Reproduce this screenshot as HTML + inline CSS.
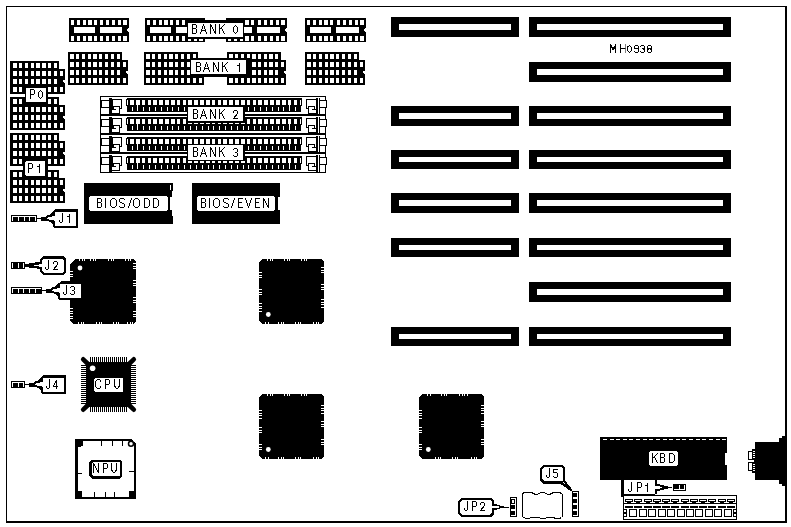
<!DOCTYPE html>
<html><head><meta charset="utf-8"><title>MH0938</title>
<style>
html,body{margin:0;padding:0;background:#fff;}
svg{display:block}
text{font-family:"Liberation Sans",sans-serif;fill:#000;}
</style></head><body>
<svg width="791" height="527" viewBox="0 0 791 527" shape-rendering="crispEdges">
<rect x="0" y="0" width="791" height="527" fill="#fff"/>
<rect x="6" y="6" width="781" height="1" fill="#000"/>
<rect x="6" y="6" width="1" height="517" fill="#000"/>
<rect x="785" y="6" width="2" height="517" fill="#000"/>
<rect x="6" y="521" width="781" height="2" fill="#000"/>
<rect x="69" y="18" width="60" height="24" fill="#000"/>
<rect x="71" y="20" width="3" height="5" fill="#fff"/>
<rect x="71" y="36" width="3" height="5" fill="#fff"/>
<rect x="77" y="20" width="3" height="5" fill="#fff"/>
<rect x="77" y="36" width="3" height="5" fill="#fff"/>
<rect x="83" y="20" width="3" height="5" fill="#fff"/>
<rect x="83" y="36" width="3" height="5" fill="#fff"/>
<rect x="88" y="20" width="4" height="5" fill="#fff"/>
<rect x="88" y="36" width="4" height="5" fill="#fff"/>
<rect x="94" y="20" width="3" height="5" fill="#fff"/>
<rect x="94" y="36" width="3" height="5" fill="#fff"/>
<rect x="100" y="20" width="3" height="5" fill="#fff"/>
<rect x="100" y="36" width="3" height="5" fill="#fff"/>
<rect x="106" y="20" width="3" height="5" fill="#fff"/>
<rect x="106" y="36" width="3" height="5" fill="#fff"/>
<rect x="112" y="20" width="3" height="5" fill="#fff"/>
<rect x="112" y="36" width="3" height="5" fill="#fff"/>
<rect x="118" y="20" width="3" height="5" fill="#fff"/>
<rect x="118" y="36" width="3" height="5" fill="#fff"/>
<rect x="123" y="20" width="4" height="5" fill="#fff"/>
<rect x="123" y="36" width="4" height="5" fill="#fff"/>
<rect x="74" y="27" width="21" height="6" fill="#fff"/>
<rect x="100" y="27" width="22" height="6" fill="#fff"/>
<polygon points="129,28 126,30 129,32" fill="#fff"/>
<rect x="145" y="18" width="60" height="24" fill="#000"/>
<rect x="147" y="20" width="3" height="5" fill="#fff"/>
<rect x="147" y="36" width="3" height="5" fill="#fff"/>
<rect x="153" y="20" width="3" height="5" fill="#fff"/>
<rect x="153" y="36" width="3" height="5" fill="#fff"/>
<rect x="159" y="20" width="3" height="5" fill="#fff"/>
<rect x="159" y="36" width="3" height="5" fill="#fff"/>
<rect x="164" y="20" width="4" height="5" fill="#fff"/>
<rect x="164" y="36" width="4" height="5" fill="#fff"/>
<rect x="170" y="20" width="3" height="5" fill="#fff"/>
<rect x="170" y="36" width="3" height="5" fill="#fff"/>
<rect x="176" y="20" width="3" height="5" fill="#fff"/>
<rect x="176" y="36" width="3" height="5" fill="#fff"/>
<rect x="182" y="20" width="3" height="5" fill="#fff"/>
<rect x="182" y="36" width="3" height="5" fill="#fff"/>
<rect x="188" y="20" width="3" height="5" fill="#fff"/>
<rect x="188" y="36" width="3" height="5" fill="#fff"/>
<rect x="194" y="20" width="3" height="5" fill="#fff"/>
<rect x="194" y="36" width="3" height="5" fill="#fff"/>
<rect x="199" y="20" width="4" height="5" fill="#fff"/>
<rect x="199" y="36" width="4" height="5" fill="#fff"/>
<rect x="150" y="27" width="21" height="6" fill="#fff"/>
<rect x="176" y="27" width="22" height="6" fill="#fff"/>
<polygon points="205,28 202,30 205,32" fill="#fff"/>
<rect x="226" y="18" width="61" height="24" fill="#000"/>
<rect x="228" y="20" width="3" height="5" fill="#fff"/>
<rect x="228" y="36" width="3" height="5" fill="#fff"/>
<rect x="234" y="20" width="3" height="5" fill="#fff"/>
<rect x="234" y="36" width="3" height="5" fill="#fff"/>
<rect x="240" y="20" width="3" height="5" fill="#fff"/>
<rect x="240" y="36" width="3" height="5" fill="#fff"/>
<rect x="245" y="20" width="4" height="5" fill="#fff"/>
<rect x="245" y="36" width="4" height="5" fill="#fff"/>
<rect x="251" y="20" width="3" height="5" fill="#fff"/>
<rect x="251" y="36" width="3" height="5" fill="#fff"/>
<rect x="258" y="20" width="3" height="5" fill="#fff"/>
<rect x="258" y="36" width="3" height="5" fill="#fff"/>
<rect x="264" y="20" width="3" height="5" fill="#fff"/>
<rect x="264" y="36" width="3" height="5" fill="#fff"/>
<rect x="270" y="20" width="3" height="5" fill="#fff"/>
<rect x="270" y="36" width="3" height="5" fill="#fff"/>
<rect x="276" y="20" width="3" height="5" fill="#fff"/>
<rect x="276" y="36" width="3" height="5" fill="#fff"/>
<rect x="281" y="20" width="4" height="5" fill="#fff"/>
<rect x="281" y="36" width="4" height="5" fill="#fff"/>
<rect x="231" y="27" width="21" height="6" fill="#fff"/>
<rect x="257" y="27" width="23" height="6" fill="#fff"/>
<polygon points="287,28 284,30 287,32" fill="#fff"/>
<rect x="305" y="18" width="61" height="24" fill="#000"/>
<rect x="307" y="20" width="3" height="5" fill="#fff"/>
<rect x="307" y="36" width="3" height="5" fill="#fff"/>
<rect x="313" y="20" width="3" height="5" fill="#fff"/>
<rect x="313" y="36" width="3" height="5" fill="#fff"/>
<rect x="319" y="20" width="3" height="5" fill="#fff"/>
<rect x="319" y="36" width="3" height="5" fill="#fff"/>
<rect x="324" y="20" width="4" height="5" fill="#fff"/>
<rect x="324" y="36" width="4" height="5" fill="#fff"/>
<rect x="330" y="20" width="3" height="5" fill="#fff"/>
<rect x="330" y="36" width="3" height="5" fill="#fff"/>
<rect x="337" y="20" width="3" height="5" fill="#fff"/>
<rect x="337" y="36" width="3" height="5" fill="#fff"/>
<rect x="343" y="20" width="3" height="5" fill="#fff"/>
<rect x="343" y="36" width="3" height="5" fill="#fff"/>
<rect x="349" y="20" width="3" height="5" fill="#fff"/>
<rect x="349" y="36" width="3" height="5" fill="#fff"/>
<rect x="355" y="20" width="3" height="5" fill="#fff"/>
<rect x="355" y="36" width="3" height="5" fill="#fff"/>
<rect x="360" y="20" width="4" height="5" fill="#fff"/>
<rect x="360" y="36" width="4" height="5" fill="#fff"/>
<rect x="310" y="27" width="21" height="6" fill="#fff"/>
<rect x="336" y="27" width="23" height="6" fill="#fff"/>
<polygon points="366,28 363,30 366,32" fill="#fff"/>
<rect x="68" y="52" width="54" height="33" fill="#000"/>
<rect x="68" y="60" width="60" height="25" fill="#000"/>
<rect x="70" y="54" width="4" height="5" fill="#fff"/>
<rect x="76" y="54" width="3" height="5" fill="#fff"/>
<rect x="82" y="54" width="3" height="5" fill="#fff"/>
<rect x="88" y="54" width="3" height="5" fill="#fff"/>
<rect x="93" y="54" width="4" height="5" fill="#fff"/>
<rect x="99" y="54" width="3" height="5" fill="#fff"/>
<rect x="105" y="54" width="3" height="5" fill="#fff"/>
<rect x="111" y="54" width="3" height="5" fill="#fff"/>
<rect x="117" y="54" width="3" height="5" fill="#fff"/>
<rect x="70" y="62" width="4" height="5" fill="#fff"/>
<rect x="76" y="62" width="3" height="5" fill="#fff"/>
<rect x="82" y="62" width="3" height="5" fill="#fff"/>
<rect x="88" y="62" width="3" height="5" fill="#fff"/>
<rect x="93" y="62" width="4" height="5" fill="#fff"/>
<rect x="99" y="62" width="3" height="5" fill="#fff"/>
<rect x="105" y="62" width="3" height="5" fill="#fff"/>
<rect x="111" y="62" width="3" height="5" fill="#fff"/>
<rect x="117" y="62" width="3" height="5" fill="#fff"/>
<rect x="123" y="62" width="3" height="5" fill="#fff"/>
<rect x="70" y="70" width="4" height="5" fill="#fff"/>
<rect x="76" y="70" width="3" height="5" fill="#fff"/>
<rect x="82" y="70" width="3" height="5" fill="#fff"/>
<rect x="88" y="70" width="3" height="5" fill="#fff"/>
<rect x="93" y="70" width="4" height="5" fill="#fff"/>
<rect x="99" y="70" width="3" height="5" fill="#fff"/>
<rect x="105" y="70" width="3" height="5" fill="#fff"/>
<rect x="111" y="70" width="3" height="5" fill="#fff"/>
<rect x="117" y="70" width="3" height="5" fill="#fff"/>
<rect x="70" y="78" width="4" height="5" fill="#fff"/>
<rect x="76" y="78" width="3" height="5" fill="#fff"/>
<rect x="82" y="78" width="3" height="5" fill="#fff"/>
<rect x="88" y="78" width="3" height="5" fill="#fff"/>
<rect x="93" y="78" width="4" height="5" fill="#fff"/>
<rect x="99" y="78" width="3" height="5" fill="#fff"/>
<rect x="105" y="78" width="3" height="5" fill="#fff"/>
<rect x="111" y="78" width="3" height="5" fill="#fff"/>
<rect x="117" y="78" width="3" height="5" fill="#fff"/>
<rect x="123" y="78" width="3" height="5" fill="#fff"/>
<polygon points="126,71 128,71 128,75 127,74 126,72.5" fill="#fff"/>
<rect x="144" y="52" width="54" height="33" fill="#000"/>
<rect x="144" y="60" width="60" height="25" fill="#000"/>
<rect x="146" y="54" width="4" height="5" fill="#fff"/>
<rect x="152" y="54" width="3" height="5" fill="#fff"/>
<rect x="158" y="54" width="3" height="5" fill="#fff"/>
<rect x="164" y="54" width="3" height="5" fill="#fff"/>
<rect x="169" y="54" width="4" height="5" fill="#fff"/>
<rect x="175" y="54" width="3" height="5" fill="#fff"/>
<rect x="181" y="54" width="3" height="5" fill="#fff"/>
<rect x="187" y="54" width="3" height="5" fill="#fff"/>
<rect x="193" y="54" width="3" height="5" fill="#fff"/>
<rect x="146" y="62" width="4" height="5" fill="#fff"/>
<rect x="152" y="62" width="3" height="5" fill="#fff"/>
<rect x="158" y="62" width="3" height="5" fill="#fff"/>
<rect x="164" y="62" width="3" height="5" fill="#fff"/>
<rect x="169" y="62" width="4" height="5" fill="#fff"/>
<rect x="175" y="62" width="3" height="5" fill="#fff"/>
<rect x="181" y="62" width="3" height="5" fill="#fff"/>
<rect x="187" y="62" width="3" height="5" fill="#fff"/>
<rect x="193" y="62" width="3" height="5" fill="#fff"/>
<rect x="199" y="62" width="3" height="5" fill="#fff"/>
<rect x="146" y="70" width="4" height="5" fill="#fff"/>
<rect x="152" y="70" width="3" height="5" fill="#fff"/>
<rect x="158" y="70" width="3" height="5" fill="#fff"/>
<rect x="164" y="70" width="3" height="5" fill="#fff"/>
<rect x="169" y="70" width="4" height="5" fill="#fff"/>
<rect x="175" y="70" width="3" height="5" fill="#fff"/>
<rect x="181" y="70" width="3" height="5" fill="#fff"/>
<rect x="187" y="70" width="3" height="5" fill="#fff"/>
<rect x="193" y="70" width="3" height="5" fill="#fff"/>
<rect x="146" y="78" width="4" height="5" fill="#fff"/>
<rect x="152" y="78" width="3" height="5" fill="#fff"/>
<rect x="158" y="78" width="3" height="5" fill="#fff"/>
<rect x="164" y="78" width="3" height="5" fill="#fff"/>
<rect x="169" y="78" width="4" height="5" fill="#fff"/>
<rect x="175" y="78" width="3" height="5" fill="#fff"/>
<rect x="181" y="78" width="3" height="5" fill="#fff"/>
<rect x="187" y="78" width="3" height="5" fill="#fff"/>
<rect x="193" y="78" width="3" height="5" fill="#fff"/>
<rect x="199" y="78" width="3" height="5" fill="#fff"/>
<polygon points="202,71 204,71 204,75 203,74 202,72.5" fill="#fff"/>
<rect x="305" y="52" width="54" height="33" fill="#000"/>
<rect x="305" y="60" width="60" height="25" fill="#000"/>
<rect x="307" y="54" width="4" height="5" fill="#fff"/>
<rect x="313" y="54" width="3" height="5" fill="#fff"/>
<rect x="319" y="54" width="3" height="5" fill="#fff"/>
<rect x="325" y="54" width="3" height="5" fill="#fff"/>
<rect x="330" y="54" width="4" height="5" fill="#fff"/>
<rect x="336" y="54" width="3" height="5" fill="#fff"/>
<rect x="342" y="54" width="3" height="5" fill="#fff"/>
<rect x="348" y="54" width="3" height="5" fill="#fff"/>
<rect x="354" y="54" width="3" height="5" fill="#fff"/>
<rect x="307" y="62" width="4" height="5" fill="#fff"/>
<rect x="313" y="62" width="3" height="5" fill="#fff"/>
<rect x="319" y="62" width="3" height="5" fill="#fff"/>
<rect x="325" y="62" width="3" height="5" fill="#fff"/>
<rect x="330" y="62" width="4" height="5" fill="#fff"/>
<rect x="336" y="62" width="3" height="5" fill="#fff"/>
<rect x="342" y="62" width="3" height="5" fill="#fff"/>
<rect x="348" y="62" width="3" height="5" fill="#fff"/>
<rect x="354" y="62" width="3" height="5" fill="#fff"/>
<rect x="360" y="62" width="3" height="5" fill="#fff"/>
<rect x="307" y="70" width="4" height="5" fill="#fff"/>
<rect x="313" y="70" width="3" height="5" fill="#fff"/>
<rect x="319" y="70" width="3" height="5" fill="#fff"/>
<rect x="325" y="70" width="3" height="5" fill="#fff"/>
<rect x="330" y="70" width="4" height="5" fill="#fff"/>
<rect x="336" y="70" width="3" height="5" fill="#fff"/>
<rect x="342" y="70" width="3" height="5" fill="#fff"/>
<rect x="348" y="70" width="3" height="5" fill="#fff"/>
<rect x="354" y="70" width="3" height="5" fill="#fff"/>
<rect x="307" y="78" width="4" height="5" fill="#fff"/>
<rect x="313" y="78" width="3" height="5" fill="#fff"/>
<rect x="319" y="78" width="3" height="5" fill="#fff"/>
<rect x="325" y="78" width="3" height="5" fill="#fff"/>
<rect x="330" y="78" width="4" height="5" fill="#fff"/>
<rect x="336" y="78" width="3" height="5" fill="#fff"/>
<rect x="342" y="78" width="3" height="5" fill="#fff"/>
<rect x="348" y="78" width="3" height="5" fill="#fff"/>
<rect x="354" y="78" width="3" height="5" fill="#fff"/>
<rect x="360" y="78" width="3" height="5" fill="#fff"/>
<polygon points="363,71 365,71 365,75 364,74 363,72.5" fill="#fff"/>
<rect x="227" y="52" width="54" height="33" fill="#000"/>
<rect x="227" y="60" width="59" height="25" fill="#000"/>
<rect x="229" y="54" width="4" height="5" fill="#fff"/>
<rect x="235" y="54" width="3" height="5" fill="#fff"/>
<rect x="241" y="54" width="3" height="5" fill="#fff"/>
<rect x="247" y="54" width="3" height="5" fill="#fff"/>
<rect x="252" y="54" width="4" height="5" fill="#fff"/>
<rect x="258" y="54" width="3" height="5" fill="#fff"/>
<rect x="264" y="54" width="3" height="5" fill="#fff"/>
<rect x="269" y="54" width="4" height="5" fill="#fff"/>
<rect x="275" y="54" width="3" height="5" fill="#fff"/>
<rect x="229" y="62" width="4" height="5" fill="#fff"/>
<rect x="235" y="62" width="3" height="5" fill="#fff"/>
<rect x="241" y="62" width="3" height="5" fill="#fff"/>
<rect x="247" y="62" width="3" height="5" fill="#fff"/>
<rect x="252" y="62" width="4" height="5" fill="#fff"/>
<rect x="258" y="62" width="3" height="5" fill="#fff"/>
<rect x="264" y="62" width="3" height="5" fill="#fff"/>
<rect x="269" y="62" width="4" height="5" fill="#fff"/>
<rect x="275" y="62" width="3" height="5" fill="#fff"/>
<rect x="281" y="62" width="3" height="5" fill="#fff"/>
<rect x="229" y="70" width="4" height="5" fill="#fff"/>
<rect x="235" y="70" width="3" height="5" fill="#fff"/>
<rect x="241" y="70" width="3" height="5" fill="#fff"/>
<rect x="247" y="70" width="3" height="5" fill="#fff"/>
<rect x="252" y="70" width="4" height="5" fill="#fff"/>
<rect x="258" y="70" width="3" height="5" fill="#fff"/>
<rect x="264" y="70" width="3" height="5" fill="#fff"/>
<rect x="269" y="70" width="4" height="5" fill="#fff"/>
<rect x="275" y="70" width="3" height="5" fill="#fff"/>
<rect x="229" y="78" width="4" height="5" fill="#fff"/>
<rect x="235" y="78" width="3" height="5" fill="#fff"/>
<rect x="241" y="78" width="3" height="5" fill="#fff"/>
<rect x="247" y="78" width="3" height="5" fill="#fff"/>
<rect x="252" y="78" width="4" height="5" fill="#fff"/>
<rect x="258" y="78" width="3" height="5" fill="#fff"/>
<rect x="264" y="78" width="3" height="5" fill="#fff"/>
<rect x="269" y="78" width="4" height="5" fill="#fff"/>
<rect x="275" y="78" width="3" height="5" fill="#fff"/>
<rect x="281" y="78" width="3" height="5" fill="#fff"/>
<polygon points="284,71 286,71 286,75 285,74 284,72.5" fill="#fff"/>
<rect x="10" y="61" width="49" height="33" fill="#000"/>
<rect x="10" y="69" width="55" height="25" fill="#000"/>
<rect x="13" y="63" width="4" height="5" fill="#fff"/>
<rect x="19" y="63" width="3" height="5" fill="#fff"/>
<rect x="25" y="63" width="3" height="5" fill="#fff"/>
<rect x="31" y="63" width="3" height="5" fill="#fff"/>
<rect x="36" y="63" width="4" height="5" fill="#fff"/>
<rect x="42" y="63" width="4" height="5" fill="#fff"/>
<rect x="48" y="63" width="3" height="5" fill="#fff"/>
<rect x="54" y="63" width="3" height="5" fill="#fff"/>
<rect x="13" y="71" width="4" height="5" fill="#fff"/>
<rect x="19" y="71" width="3" height="5" fill="#fff"/>
<rect x="25" y="71" width="3" height="5" fill="#fff"/>
<rect x="31" y="71" width="3" height="5" fill="#fff"/>
<rect x="36" y="71" width="4" height="5" fill="#fff"/>
<rect x="42" y="71" width="4" height="5" fill="#fff"/>
<rect x="48" y="71" width="3" height="5" fill="#fff"/>
<rect x="54" y="71" width="3" height="5" fill="#fff"/>
<rect x="60" y="71" width="3" height="5" fill="#fff"/>
<rect x="13" y="79" width="4" height="5" fill="#fff"/>
<rect x="19" y="79" width="3" height="5" fill="#fff"/>
<rect x="25" y="79" width="3" height="5" fill="#fff"/>
<rect x="31" y="79" width="3" height="5" fill="#fff"/>
<rect x="36" y="79" width="4" height="5" fill="#fff"/>
<rect x="42" y="79" width="4" height="5" fill="#fff"/>
<rect x="48" y="79" width="3" height="5" fill="#fff"/>
<rect x="54" y="79" width="3" height="5" fill="#fff"/>
<rect x="13" y="87" width="4" height="5" fill="#fff"/>
<rect x="19" y="87" width="3" height="5" fill="#fff"/>
<rect x="25" y="87" width="3" height="5" fill="#fff"/>
<rect x="31" y="87" width="3" height="5" fill="#fff"/>
<rect x="36" y="87" width="4" height="5" fill="#fff"/>
<rect x="42" y="87" width="4" height="5" fill="#fff"/>
<rect x="48" y="87" width="3" height="5" fill="#fff"/>
<rect x="54" y="87" width="3" height="5" fill="#fff"/>
<rect x="60" y="87" width="3" height="5" fill="#fff"/>
<polygon points="63,80 65,80 65,84 64,83 63,81.5" fill="#fff"/>
<rect x="10" y="97" width="49" height="33" fill="#000"/>
<rect x="10" y="105" width="55" height="25" fill="#000"/>
<rect x="13" y="99" width="4" height="5" fill="#fff"/>
<rect x="19" y="99" width="3" height="5" fill="#fff"/>
<rect x="25" y="99" width="3" height="5" fill="#fff"/>
<rect x="31" y="99" width="3" height="5" fill="#fff"/>
<rect x="36" y="99" width="4" height="5" fill="#fff"/>
<rect x="42" y="99" width="4" height="5" fill="#fff"/>
<rect x="48" y="99" width="3" height="5" fill="#fff"/>
<rect x="54" y="99" width="3" height="5" fill="#fff"/>
<rect x="13" y="107" width="4" height="5" fill="#fff"/>
<rect x="19" y="107" width="3" height="5" fill="#fff"/>
<rect x="25" y="107" width="3" height="5" fill="#fff"/>
<rect x="31" y="107" width="3" height="5" fill="#fff"/>
<rect x="36" y="107" width="4" height="5" fill="#fff"/>
<rect x="42" y="107" width="4" height="5" fill="#fff"/>
<rect x="48" y="107" width="3" height="5" fill="#fff"/>
<rect x="54" y="107" width="3" height="5" fill="#fff"/>
<rect x="60" y="107" width="3" height="5" fill="#fff"/>
<rect x="13" y="115" width="4" height="5" fill="#fff"/>
<rect x="19" y="115" width="3" height="5" fill="#fff"/>
<rect x="25" y="115" width="3" height="5" fill="#fff"/>
<rect x="31" y="115" width="3" height="5" fill="#fff"/>
<rect x="36" y="115" width="4" height="5" fill="#fff"/>
<rect x="42" y="115" width="4" height="5" fill="#fff"/>
<rect x="48" y="115" width="3" height="5" fill="#fff"/>
<rect x="54" y="115" width="3" height="5" fill="#fff"/>
<rect x="13" y="123" width="4" height="5" fill="#fff"/>
<rect x="19" y="123" width="3" height="5" fill="#fff"/>
<rect x="25" y="123" width="3" height="5" fill="#fff"/>
<rect x="31" y="123" width="3" height="5" fill="#fff"/>
<rect x="36" y="123" width="4" height="5" fill="#fff"/>
<rect x="42" y="123" width="4" height="5" fill="#fff"/>
<rect x="48" y="123" width="3" height="5" fill="#fff"/>
<rect x="54" y="123" width="3" height="5" fill="#fff"/>
<rect x="60" y="123" width="3" height="5" fill="#fff"/>
<polygon points="63,116 65,116 65,120 64,119 63,117.5" fill="#fff"/>
<rect x="10" y="133" width="49" height="33" fill="#000"/>
<rect x="10" y="141" width="55" height="25" fill="#000"/>
<rect x="13" y="135" width="4" height="5" fill="#fff"/>
<rect x="19" y="135" width="3" height="5" fill="#fff"/>
<rect x="25" y="135" width="3" height="5" fill="#fff"/>
<rect x="31" y="135" width="3" height="5" fill="#fff"/>
<rect x="36" y="135" width="4" height="5" fill="#fff"/>
<rect x="42" y="135" width="4" height="5" fill="#fff"/>
<rect x="48" y="135" width="3" height="5" fill="#fff"/>
<rect x="54" y="135" width="3" height="5" fill="#fff"/>
<rect x="13" y="143" width="4" height="5" fill="#fff"/>
<rect x="19" y="143" width="3" height="5" fill="#fff"/>
<rect x="25" y="143" width="3" height="5" fill="#fff"/>
<rect x="31" y="143" width="3" height="5" fill="#fff"/>
<rect x="36" y="143" width="4" height="5" fill="#fff"/>
<rect x="42" y="143" width="4" height="5" fill="#fff"/>
<rect x="48" y="143" width="3" height="5" fill="#fff"/>
<rect x="54" y="143" width="3" height="5" fill="#fff"/>
<rect x="60" y="143" width="3" height="5" fill="#fff"/>
<rect x="13" y="151" width="4" height="5" fill="#fff"/>
<rect x="19" y="151" width="3" height="5" fill="#fff"/>
<rect x="25" y="151" width="3" height="5" fill="#fff"/>
<rect x="31" y="151" width="3" height="5" fill="#fff"/>
<rect x="36" y="151" width="4" height="5" fill="#fff"/>
<rect x="42" y="151" width="4" height="5" fill="#fff"/>
<rect x="48" y="151" width="3" height="5" fill="#fff"/>
<rect x="54" y="151" width="3" height="5" fill="#fff"/>
<rect x="13" y="159" width="4" height="5" fill="#fff"/>
<rect x="19" y="159" width="3" height="5" fill="#fff"/>
<rect x="25" y="159" width="3" height="5" fill="#fff"/>
<rect x="31" y="159" width="3" height="5" fill="#fff"/>
<rect x="36" y="159" width="4" height="5" fill="#fff"/>
<rect x="42" y="159" width="4" height="5" fill="#fff"/>
<rect x="48" y="159" width="3" height="5" fill="#fff"/>
<rect x="54" y="159" width="3" height="5" fill="#fff"/>
<rect x="60" y="159" width="3" height="5" fill="#fff"/>
<polygon points="63,152 65,152 65,156 64,155 63,153.5" fill="#fff"/>
<rect x="10" y="170" width="49" height="33" fill="#000"/>
<rect x="10" y="178" width="55" height="25" fill="#000"/>
<rect x="13" y="172" width="4" height="5" fill="#fff"/>
<rect x="19" y="172" width="3" height="5" fill="#fff"/>
<rect x="25" y="172" width="3" height="5" fill="#fff"/>
<rect x="31" y="172" width="3" height="5" fill="#fff"/>
<rect x="36" y="172" width="4" height="5" fill="#fff"/>
<rect x="42" y="172" width="4" height="5" fill="#fff"/>
<rect x="48" y="172" width="3" height="5" fill="#fff"/>
<rect x="54" y="172" width="3" height="5" fill="#fff"/>
<rect x="13" y="180" width="4" height="5" fill="#fff"/>
<rect x="19" y="180" width="3" height="5" fill="#fff"/>
<rect x="25" y="180" width="3" height="5" fill="#fff"/>
<rect x="31" y="180" width="3" height="5" fill="#fff"/>
<rect x="36" y="180" width="4" height="5" fill="#fff"/>
<rect x="42" y="180" width="4" height="5" fill="#fff"/>
<rect x="48" y="180" width="3" height="5" fill="#fff"/>
<rect x="54" y="180" width="3" height="5" fill="#fff"/>
<rect x="60" y="180" width="3" height="5" fill="#fff"/>
<rect x="13" y="188" width="4" height="5" fill="#fff"/>
<rect x="19" y="188" width="3" height="5" fill="#fff"/>
<rect x="25" y="188" width="3" height="5" fill="#fff"/>
<rect x="31" y="188" width="3" height="5" fill="#fff"/>
<rect x="36" y="188" width="4" height="5" fill="#fff"/>
<rect x="42" y="188" width="4" height="5" fill="#fff"/>
<rect x="48" y="188" width="3" height="5" fill="#fff"/>
<rect x="54" y="188" width="3" height="5" fill="#fff"/>
<rect x="13" y="196" width="4" height="5" fill="#fff"/>
<rect x="19" y="196" width="3" height="5" fill="#fff"/>
<rect x="25" y="196" width="3" height="5" fill="#fff"/>
<rect x="31" y="196" width="3" height="5" fill="#fff"/>
<rect x="36" y="196" width="4" height="5" fill="#fff"/>
<rect x="42" y="196" width="4" height="5" fill="#fff"/>
<rect x="48" y="196" width="3" height="5" fill="#fff"/>
<rect x="54" y="196" width="3" height="5" fill="#fff"/>
<rect x="60" y="196" width="3" height="5" fill="#fff"/>
<polygon points="63,189 65,189 65,193 64,192 63,190.5" fill="#fff"/>
<rect x="100" y="96" width="226" height="1" fill="#000"/>
<rect x="100" y="96" width="1" height="19" fill="#000"/>
<rect x="101" y="100" width="8" height="1" fill="#000"/>
<rect x="101" y="107" width="8" height="1" fill="#000"/>
<rect x="101" y="101" width="1" height="6" fill="#000"/>
<rect x="320" y="100" width="7" height="1" fill="#000"/>
<rect x="320" y="107" width="7" height="1" fill="#000"/>
<rect x="326" y="100" width="1" height="8" fill="#000"/>
<rect x="325" y="96" width="1" height="5" fill="#000"/>
<rect x="325" y="107" width="1" height="8" fill="#000"/>
<rect x="109" y="98" width="3" height="17" fill="#000"/>
<rect x="112" y="99" width="1" height="11" fill="#000"/>
<rect x="316" y="98" width="2" height="17" fill="#000"/>
<rect x="319" y="98" width="1" height="17" fill="#000"/>
<rect x="112" y="99" width="10" height="1" fill="#000"/>
<rect x="121" y="99" width="1" height="10" fill="#000"/>
<rect x="120" y="108" width="2" height="1" fill="#000"/>
<rect x="113" y="106" width="7" height="1" fill="#000"/>
<rect x="119" y="106" width="1" height="8" fill="#000"/>
<rect x="113" y="106" width="1" height="3" fill="#000"/>
<rect x="112" y="109" width="4" height="1" fill="#000"/>
<rect x="112" y="113" width="8" height="1" fill="#000"/>
<rect x="306" y="99" width="10" height="1" fill="#000"/>
<rect x="306" y="99" width="1" height="10" fill="#000"/>
<rect x="306" y="108" width="2" height="1" fill="#000"/>
<rect x="308" y="106" width="7" height="1" fill="#000"/>
<rect x="308" y="106" width="1" height="8" fill="#000"/>
<rect x="314" y="106" width="1" height="3" fill="#000"/>
<rect x="312" y="109" width="4" height="1" fill="#000"/>
<rect x="308" y="113" width="8" height="1" fill="#000"/>
<rect x="126" y="99" width="1" height="7" fill="#000"/>
<rect x="127" y="98" width="175" height="8" fill="#000"/>
<rect x="127" y="106" width="174" height="6" fill="#000"/>
<rect x="127" y="100" width="1" height="5" fill="#fff"/>
<rect x="300" y="100" width="1" height="5" fill="#fff"/>
<rect x="130" y="100" width="4" height="5" fill="#fff"/>
<rect x="132" y="107" width="1" height="4" fill="#fff"/>
<rect x="136" y="100" width="4" height="5" fill="#fff"/>
<rect x="137" y="100" width="1" height="11" fill="#fff"/>
<rect x="142" y="100" width="3" height="5" fill="#fff"/>
<rect x="143" y="107" width="1" height="4" fill="#fff"/>
<rect x="148" y="100" width="3" height="5" fill="#fff"/>
<rect x="149" y="107" width="1" height="4" fill="#fff"/>
<rect x="153" y="100" width="4" height="5" fill="#fff"/>
<rect x="155" y="107" width="1" height="4" fill="#fff"/>
<rect x="159" y="100" width="4" height="5" fill="#fff"/>
<rect x="161" y="107" width="1" height="4" fill="#fff"/>
<rect x="165" y="100" width="4" height="5" fill="#fff"/>
<rect x="167" y="107" width="1" height="4" fill="#fff"/>
<rect x="171" y="100" width="4" height="5" fill="#fff"/>
<rect x="172" y="107" width="1" height="4" fill="#fff"/>
<rect x="177" y="100" width="3" height="5" fill="#fff"/>
<rect x="178" y="107" width="1" height="4" fill="#fff"/>
<rect x="183" y="100" width="3" height="5" fill="#fff"/>
<rect x="184" y="107" width="1" height="4" fill="#fff"/>
<rect x="188" y="100" width="4" height="5" fill="#fff"/>
<rect x="190" y="107" width="1" height="4" fill="#fff"/>
<rect x="194" y="100" width="4" height="5" fill="#fff"/>
<rect x="196" y="107" width="1" height="4" fill="#fff"/>
<rect x="200" y="100" width="4" height="5" fill="#fff"/>
<rect x="202" y="107" width="1" height="4" fill="#fff"/>
<rect x="206" y="100" width="4" height="5" fill="#fff"/>
<rect x="208" y="107" width="1" height="4" fill="#fff"/>
<rect x="212" y="100" width="3" height="5" fill="#fff"/>
<rect x="213" y="107" width="1" height="4" fill="#fff"/>
<rect x="218" y="100" width="3" height="5" fill="#fff"/>
<rect x="219" y="107" width="1" height="4" fill="#fff"/>
<rect x="223" y="100" width="4" height="5" fill="#fff"/>
<rect x="225" y="107" width="1" height="4" fill="#fff"/>
<rect x="229" y="100" width="4" height="5" fill="#fff"/>
<rect x="231" y="107" width="1" height="4" fill="#fff"/>
<rect x="235" y="100" width="4" height="5" fill="#fff"/>
<rect x="237" y="107" width="1" height="4" fill="#fff"/>
<rect x="241" y="100" width="4" height="5" fill="#fff"/>
<rect x="243" y="107" width="1" height="4" fill="#fff"/>
<rect x="247" y="100" width="3" height="5" fill="#fff"/>
<rect x="248" y="107" width="1" height="4" fill="#fff"/>
<rect x="253" y="100" width="3" height="5" fill="#fff"/>
<rect x="254" y="107" width="1" height="4" fill="#fff"/>
<rect x="258" y="100" width="4" height="5" fill="#fff"/>
<rect x="260" y="107" width="1" height="4" fill="#fff"/>
<rect x="264" y="100" width="4" height="5" fill="#fff"/>
<rect x="266" y="107" width="1" height="4" fill="#fff"/>
<rect x="270" y="100" width="4" height="5" fill="#fff"/>
<rect x="272" y="107" width="1" height="4" fill="#fff"/>
<rect x="276" y="100" width="4" height="5" fill="#fff"/>
<rect x="278" y="107" width="1" height="4" fill="#fff"/>
<rect x="282" y="100" width="4" height="5" fill="#fff"/>
<rect x="283" y="107" width="1" height="4" fill="#fff"/>
<rect x="288" y="100" width="3" height="5" fill="#fff"/>
<rect x="289" y="100" width="1" height="11" fill="#fff"/>
<rect x="294" y="100" width="3" height="5" fill="#fff"/>
<rect x="295" y="107" width="1" height="4" fill="#fff"/>
<rect x="100" y="115" width="226" height="1" fill="#000"/>
<rect x="100" y="115" width="1" height="19" fill="#000"/>
<rect x="101" y="119" width="8" height="1" fill="#000"/>
<rect x="101" y="126" width="8" height="1" fill="#000"/>
<rect x="101" y="120" width="1" height="6" fill="#000"/>
<rect x="320" y="119" width="7" height="1" fill="#000"/>
<rect x="320" y="126" width="7" height="1" fill="#000"/>
<rect x="326" y="119" width="1" height="8" fill="#000"/>
<rect x="325" y="115" width="1" height="5" fill="#000"/>
<rect x="325" y="126" width="1" height="8" fill="#000"/>
<rect x="109" y="117" width="3" height="17" fill="#000"/>
<rect x="112" y="118" width="1" height="11" fill="#000"/>
<rect x="316" y="117" width="2" height="17" fill="#000"/>
<rect x="319" y="117" width="1" height="17" fill="#000"/>
<rect x="112" y="118" width="10" height="1" fill="#000"/>
<rect x="121" y="118" width="1" height="10" fill="#000"/>
<rect x="120" y="127" width="2" height="1" fill="#000"/>
<rect x="113" y="125" width="7" height="1" fill="#000"/>
<rect x="119" y="125" width="1" height="8" fill="#000"/>
<rect x="113" y="125" width="1" height="3" fill="#000"/>
<rect x="112" y="128" width="4" height="1" fill="#000"/>
<rect x="112" y="132" width="8" height="1" fill="#000"/>
<rect x="306" y="118" width="10" height="1" fill="#000"/>
<rect x="306" y="118" width="1" height="10" fill="#000"/>
<rect x="306" y="127" width="2" height="1" fill="#000"/>
<rect x="308" y="125" width="7" height="1" fill="#000"/>
<rect x="308" y="125" width="1" height="8" fill="#000"/>
<rect x="314" y="125" width="1" height="3" fill="#000"/>
<rect x="312" y="128" width="4" height="1" fill="#000"/>
<rect x="308" y="132" width="8" height="1" fill="#000"/>
<rect x="126" y="118" width="1" height="7" fill="#000"/>
<rect x="127" y="117" width="175" height="8" fill="#000"/>
<rect x="127" y="125" width="174" height="6" fill="#000"/>
<rect x="127" y="119" width="1" height="5" fill="#fff"/>
<rect x="300" y="119" width="1" height="5" fill="#fff"/>
<rect x="130" y="119" width="4" height="5" fill="#fff"/>
<rect x="132" y="126" width="1" height="4" fill="#fff"/>
<rect x="136" y="119" width="4" height="5" fill="#fff"/>
<rect x="137" y="119" width="1" height="11" fill="#fff"/>
<rect x="142" y="119" width="3" height="5" fill="#fff"/>
<rect x="143" y="126" width="1" height="4" fill="#fff"/>
<rect x="148" y="119" width="3" height="5" fill="#fff"/>
<rect x="149" y="126" width="1" height="4" fill="#fff"/>
<rect x="153" y="119" width="4" height="5" fill="#fff"/>
<rect x="155" y="126" width="1" height="4" fill="#fff"/>
<rect x="159" y="119" width="4" height="5" fill="#fff"/>
<rect x="161" y="126" width="1" height="4" fill="#fff"/>
<rect x="165" y="119" width="4" height="5" fill="#fff"/>
<rect x="167" y="126" width="1" height="4" fill="#fff"/>
<rect x="171" y="119" width="4" height="5" fill="#fff"/>
<rect x="172" y="126" width="1" height="4" fill="#fff"/>
<rect x="177" y="119" width="3" height="5" fill="#fff"/>
<rect x="178" y="126" width="1" height="4" fill="#fff"/>
<rect x="183" y="119" width="3" height="5" fill="#fff"/>
<rect x="184" y="126" width="1" height="4" fill="#fff"/>
<rect x="188" y="119" width="4" height="5" fill="#fff"/>
<rect x="190" y="126" width="1" height="4" fill="#fff"/>
<rect x="194" y="119" width="4" height="5" fill="#fff"/>
<rect x="196" y="126" width="1" height="4" fill="#fff"/>
<rect x="200" y="119" width="4" height="5" fill="#fff"/>
<rect x="202" y="126" width="1" height="4" fill="#fff"/>
<rect x="206" y="119" width="4" height="5" fill="#fff"/>
<rect x="208" y="126" width="1" height="4" fill="#fff"/>
<rect x="212" y="119" width="3" height="5" fill="#fff"/>
<rect x="213" y="126" width="1" height="4" fill="#fff"/>
<rect x="218" y="119" width="3" height="5" fill="#fff"/>
<rect x="219" y="126" width="1" height="4" fill="#fff"/>
<rect x="223" y="119" width="4" height="5" fill="#fff"/>
<rect x="225" y="126" width="1" height="4" fill="#fff"/>
<rect x="229" y="119" width="4" height="5" fill="#fff"/>
<rect x="231" y="126" width="1" height="4" fill="#fff"/>
<rect x="235" y="119" width="4" height="5" fill="#fff"/>
<rect x="237" y="126" width="1" height="4" fill="#fff"/>
<rect x="241" y="119" width="4" height="5" fill="#fff"/>
<rect x="243" y="126" width="1" height="4" fill="#fff"/>
<rect x="247" y="119" width="3" height="5" fill="#fff"/>
<rect x="248" y="126" width="1" height="4" fill="#fff"/>
<rect x="253" y="119" width="3" height="5" fill="#fff"/>
<rect x="254" y="126" width="1" height="4" fill="#fff"/>
<rect x="258" y="119" width="4" height="5" fill="#fff"/>
<rect x="260" y="126" width="1" height="4" fill="#fff"/>
<rect x="264" y="119" width="4" height="5" fill="#fff"/>
<rect x="266" y="126" width="1" height="4" fill="#fff"/>
<rect x="270" y="119" width="4" height="5" fill="#fff"/>
<rect x="272" y="126" width="1" height="4" fill="#fff"/>
<rect x="276" y="119" width="4" height="5" fill="#fff"/>
<rect x="278" y="126" width="1" height="4" fill="#fff"/>
<rect x="282" y="119" width="4" height="5" fill="#fff"/>
<rect x="283" y="126" width="1" height="4" fill="#fff"/>
<rect x="288" y="119" width="3" height="5" fill="#fff"/>
<rect x="289" y="119" width="1" height="11" fill="#fff"/>
<rect x="294" y="119" width="3" height="5" fill="#fff"/>
<rect x="295" y="126" width="1" height="4" fill="#fff"/>
<rect x="100" y="134" width="226" height="1" fill="#000"/>
<rect x="100" y="134" width="1" height="19" fill="#000"/>
<rect x="101" y="138" width="8" height="1" fill="#000"/>
<rect x="101" y="145" width="8" height="1" fill="#000"/>
<rect x="101" y="139" width="1" height="6" fill="#000"/>
<rect x="320" y="138" width="7" height="1" fill="#000"/>
<rect x="320" y="145" width="7" height="1" fill="#000"/>
<rect x="326" y="138" width="1" height="8" fill="#000"/>
<rect x="325" y="134" width="1" height="5" fill="#000"/>
<rect x="325" y="145" width="1" height="8" fill="#000"/>
<rect x="109" y="136" width="3" height="17" fill="#000"/>
<rect x="112" y="137" width="1" height="11" fill="#000"/>
<rect x="316" y="136" width="2" height="17" fill="#000"/>
<rect x="319" y="136" width="1" height="17" fill="#000"/>
<rect x="112" y="137" width="10" height="1" fill="#000"/>
<rect x="121" y="137" width="1" height="10" fill="#000"/>
<rect x="120" y="146" width="2" height="1" fill="#000"/>
<rect x="113" y="144" width="7" height="1" fill="#000"/>
<rect x="119" y="144" width="1" height="8" fill="#000"/>
<rect x="113" y="144" width="1" height="3" fill="#000"/>
<rect x="112" y="147" width="4" height="1" fill="#000"/>
<rect x="112" y="151" width="8" height="1" fill="#000"/>
<rect x="306" y="137" width="10" height="1" fill="#000"/>
<rect x="306" y="137" width="1" height="10" fill="#000"/>
<rect x="306" y="146" width="2" height="1" fill="#000"/>
<rect x="308" y="144" width="7" height="1" fill="#000"/>
<rect x="308" y="144" width="1" height="8" fill="#000"/>
<rect x="314" y="144" width="1" height="3" fill="#000"/>
<rect x="312" y="147" width="4" height="1" fill="#000"/>
<rect x="308" y="151" width="8" height="1" fill="#000"/>
<rect x="126" y="138" width="1" height="7" fill="#000"/>
<rect x="127" y="137" width="175" height="8" fill="#000"/>
<rect x="127" y="145" width="174" height="6" fill="#000"/>
<rect x="127" y="139" width="1" height="5" fill="#fff"/>
<rect x="300" y="139" width="1" height="5" fill="#fff"/>
<rect x="130" y="139" width="4" height="5" fill="#fff"/>
<rect x="132" y="146" width="1" height="4" fill="#fff"/>
<rect x="136" y="139" width="4" height="5" fill="#fff"/>
<rect x="137" y="139" width="1" height="11" fill="#fff"/>
<rect x="142" y="139" width="3" height="5" fill="#fff"/>
<rect x="143" y="146" width="1" height="4" fill="#fff"/>
<rect x="148" y="139" width="3" height="5" fill="#fff"/>
<rect x="149" y="146" width="1" height="4" fill="#fff"/>
<rect x="153" y="139" width="4" height="5" fill="#fff"/>
<rect x="155" y="146" width="1" height="4" fill="#fff"/>
<rect x="159" y="139" width="4" height="5" fill="#fff"/>
<rect x="161" y="146" width="1" height="4" fill="#fff"/>
<rect x="165" y="139" width="4" height="5" fill="#fff"/>
<rect x="167" y="146" width="1" height="4" fill="#fff"/>
<rect x="171" y="139" width="4" height="5" fill="#fff"/>
<rect x="172" y="146" width="1" height="4" fill="#fff"/>
<rect x="177" y="139" width="3" height="5" fill="#fff"/>
<rect x="178" y="146" width="1" height="4" fill="#fff"/>
<rect x="183" y="139" width="3" height="5" fill="#fff"/>
<rect x="184" y="146" width="1" height="4" fill="#fff"/>
<rect x="188" y="139" width="4" height="5" fill="#fff"/>
<rect x="190" y="146" width="1" height="4" fill="#fff"/>
<rect x="194" y="139" width="4" height="5" fill="#fff"/>
<rect x="196" y="146" width="1" height="4" fill="#fff"/>
<rect x="200" y="139" width="4" height="5" fill="#fff"/>
<rect x="202" y="146" width="1" height="4" fill="#fff"/>
<rect x="206" y="139" width="4" height="5" fill="#fff"/>
<rect x="208" y="146" width="1" height="4" fill="#fff"/>
<rect x="212" y="139" width="3" height="5" fill="#fff"/>
<rect x="213" y="146" width="1" height="4" fill="#fff"/>
<rect x="218" y="139" width="3" height="5" fill="#fff"/>
<rect x="219" y="146" width="1" height="4" fill="#fff"/>
<rect x="223" y="139" width="4" height="5" fill="#fff"/>
<rect x="225" y="146" width="1" height="4" fill="#fff"/>
<rect x="229" y="139" width="4" height="5" fill="#fff"/>
<rect x="231" y="146" width="1" height="4" fill="#fff"/>
<rect x="235" y="139" width="4" height="5" fill="#fff"/>
<rect x="237" y="146" width="1" height="4" fill="#fff"/>
<rect x="241" y="139" width="4" height="5" fill="#fff"/>
<rect x="243" y="146" width="1" height="4" fill="#fff"/>
<rect x="247" y="139" width="3" height="5" fill="#fff"/>
<rect x="248" y="146" width="1" height="4" fill="#fff"/>
<rect x="253" y="139" width="3" height="5" fill="#fff"/>
<rect x="254" y="146" width="1" height="4" fill="#fff"/>
<rect x="258" y="139" width="4" height="5" fill="#fff"/>
<rect x="260" y="146" width="1" height="4" fill="#fff"/>
<rect x="264" y="139" width="4" height="5" fill="#fff"/>
<rect x="266" y="146" width="1" height="4" fill="#fff"/>
<rect x="270" y="139" width="4" height="5" fill="#fff"/>
<rect x="272" y="146" width="1" height="4" fill="#fff"/>
<rect x="276" y="139" width="4" height="5" fill="#fff"/>
<rect x="278" y="146" width="1" height="4" fill="#fff"/>
<rect x="282" y="139" width="4" height="5" fill="#fff"/>
<rect x="283" y="146" width="1" height="4" fill="#fff"/>
<rect x="288" y="139" width="3" height="5" fill="#fff"/>
<rect x="289" y="139" width="1" height="11" fill="#fff"/>
<rect x="294" y="139" width="3" height="5" fill="#fff"/>
<rect x="295" y="146" width="1" height="4" fill="#fff"/>
<rect x="100" y="153" width="226" height="1" fill="#000"/>
<rect x="100" y="153" width="1" height="19" fill="#000"/>
<rect x="101" y="157" width="8" height="1" fill="#000"/>
<rect x="101" y="164" width="8" height="1" fill="#000"/>
<rect x="101" y="158" width="1" height="6" fill="#000"/>
<rect x="320" y="157" width="7" height="1" fill="#000"/>
<rect x="320" y="164" width="7" height="1" fill="#000"/>
<rect x="326" y="157" width="1" height="8" fill="#000"/>
<rect x="325" y="153" width="1" height="5" fill="#000"/>
<rect x="325" y="164" width="1" height="8" fill="#000"/>
<rect x="109" y="155" width="3" height="17" fill="#000"/>
<rect x="112" y="156" width="1" height="11" fill="#000"/>
<rect x="316" y="155" width="2" height="17" fill="#000"/>
<rect x="319" y="155" width="1" height="17" fill="#000"/>
<rect x="112" y="156" width="10" height="1" fill="#000"/>
<rect x="121" y="156" width="1" height="10" fill="#000"/>
<rect x="120" y="165" width="2" height="1" fill="#000"/>
<rect x="113" y="163" width="7" height="1" fill="#000"/>
<rect x="119" y="163" width="1" height="8" fill="#000"/>
<rect x="113" y="163" width="1" height="3" fill="#000"/>
<rect x="112" y="166" width="4" height="1" fill="#000"/>
<rect x="112" y="170" width="8" height="1" fill="#000"/>
<rect x="306" y="156" width="10" height="1" fill="#000"/>
<rect x="306" y="156" width="1" height="10" fill="#000"/>
<rect x="306" y="165" width="2" height="1" fill="#000"/>
<rect x="308" y="163" width="7" height="1" fill="#000"/>
<rect x="308" y="163" width="1" height="8" fill="#000"/>
<rect x="314" y="163" width="1" height="3" fill="#000"/>
<rect x="312" y="166" width="4" height="1" fill="#000"/>
<rect x="308" y="170" width="8" height="1" fill="#000"/>
<rect x="126" y="157" width="1" height="7" fill="#000"/>
<rect x="127" y="156" width="175" height="8" fill="#000"/>
<rect x="127" y="164" width="174" height="6" fill="#000"/>
<rect x="127" y="158" width="1" height="5" fill="#fff"/>
<rect x="300" y="158" width="1" height="5" fill="#fff"/>
<rect x="130" y="158" width="4" height="5" fill="#fff"/>
<rect x="132" y="165" width="1" height="4" fill="#fff"/>
<rect x="136" y="158" width="4" height="5" fill="#fff"/>
<rect x="137" y="158" width="1" height="11" fill="#fff"/>
<rect x="142" y="158" width="3" height="5" fill="#fff"/>
<rect x="143" y="165" width="1" height="4" fill="#fff"/>
<rect x="148" y="158" width="3" height="5" fill="#fff"/>
<rect x="149" y="165" width="1" height="4" fill="#fff"/>
<rect x="153" y="158" width="4" height="5" fill="#fff"/>
<rect x="155" y="165" width="1" height="4" fill="#fff"/>
<rect x="159" y="158" width="4" height="5" fill="#fff"/>
<rect x="161" y="165" width="1" height="4" fill="#fff"/>
<rect x="165" y="158" width="4" height="5" fill="#fff"/>
<rect x="167" y="165" width="1" height="4" fill="#fff"/>
<rect x="171" y="158" width="4" height="5" fill="#fff"/>
<rect x="172" y="165" width="1" height="4" fill="#fff"/>
<rect x="177" y="158" width="3" height="5" fill="#fff"/>
<rect x="178" y="165" width="1" height="4" fill="#fff"/>
<rect x="183" y="158" width="3" height="5" fill="#fff"/>
<rect x="184" y="165" width="1" height="4" fill="#fff"/>
<rect x="188" y="158" width="4" height="5" fill="#fff"/>
<rect x="190" y="165" width="1" height="4" fill="#fff"/>
<rect x="194" y="158" width="4" height="5" fill="#fff"/>
<rect x="196" y="165" width="1" height="4" fill="#fff"/>
<rect x="200" y="158" width="4" height="5" fill="#fff"/>
<rect x="202" y="165" width="1" height="4" fill="#fff"/>
<rect x="206" y="158" width="4" height="5" fill="#fff"/>
<rect x="208" y="165" width="1" height="4" fill="#fff"/>
<rect x="212" y="158" width="3" height="5" fill="#fff"/>
<rect x="213" y="165" width="1" height="4" fill="#fff"/>
<rect x="218" y="158" width="3" height="5" fill="#fff"/>
<rect x="219" y="165" width="1" height="4" fill="#fff"/>
<rect x="223" y="158" width="4" height="5" fill="#fff"/>
<rect x="225" y="165" width="1" height="4" fill="#fff"/>
<rect x="229" y="158" width="4" height="5" fill="#fff"/>
<rect x="231" y="165" width="1" height="4" fill="#fff"/>
<rect x="235" y="158" width="4" height="5" fill="#fff"/>
<rect x="237" y="165" width="1" height="4" fill="#fff"/>
<rect x="241" y="158" width="4" height="5" fill="#fff"/>
<rect x="243" y="165" width="1" height="4" fill="#fff"/>
<rect x="247" y="158" width="3" height="5" fill="#fff"/>
<rect x="248" y="165" width="1" height="4" fill="#fff"/>
<rect x="253" y="158" width="3" height="5" fill="#fff"/>
<rect x="254" y="165" width="1" height="4" fill="#fff"/>
<rect x="258" y="158" width="4" height="5" fill="#fff"/>
<rect x="260" y="165" width="1" height="4" fill="#fff"/>
<rect x="264" y="158" width="4" height="5" fill="#fff"/>
<rect x="266" y="165" width="1" height="4" fill="#fff"/>
<rect x="270" y="158" width="4" height="5" fill="#fff"/>
<rect x="272" y="165" width="1" height="4" fill="#fff"/>
<rect x="276" y="158" width="4" height="5" fill="#fff"/>
<rect x="278" y="165" width="1" height="4" fill="#fff"/>
<rect x="282" y="158" width="4" height="5" fill="#fff"/>
<rect x="283" y="165" width="1" height="4" fill="#fff"/>
<rect x="288" y="158" width="3" height="5" fill="#fff"/>
<rect x="289" y="158" width="1" height="11" fill="#fff"/>
<rect x="294" y="158" width="3" height="5" fill="#fff"/>
<rect x="295" y="165" width="1" height="4" fill="#fff"/>
<rect x="100" y="114" width="226" height="2" fill="#000"/>
<rect x="100" y="133" width="226" height="2" fill="#000"/>
<rect x="100" y="152" width="226" height="2" fill="#000"/>
<rect x="100" y="172" width="226" height="1" fill="#000"/>
<rect x="84" y="183" width="89" height="41" fill="#000"/>
<rect x="170" y="185" width="1" height="5" fill="#fff"/>
<rect x="170" y="197" width="3" height="13" fill="#fff"/>
<rect x="172" y="191" width="1" height="6" fill="#fff"/>
<rect x="172" y="210" width="1" height="6" fill="#fff"/>
<polygon points="90.5,196 166.5,196 168,197.5 168,209.5 166.5,211 90.5,211 89,209.5 89,197.5" fill="#fff"/>
<svg x="97" y="198" width="5" height="10" overflow="hidden">
<polyline points="0.5,0.5 0.5,9.5" fill="none" stroke="#000" stroke-width="1" stroke-linecap="square"/>
<polyline points="0.5,0.5 3.5,0.5 4.5,1.5 4.5,3.5 3.5,4.5 0.5,4.5" fill="none" stroke="#000" stroke-width="1" stroke-linecap="square"/>
<polyline points="3.5,4.5 4.5,5.5 4.5,8.5 3.5,9.5 0.5,9.5" fill="none" stroke="#000" stroke-width="1" stroke-linecap="square"/>
</svg>
<svg x="105" y="198" width="1" height="10" overflow="hidden">
<polyline points="0.5,0.5 0.5,9.5" fill="none" stroke="#000" stroke-width="1" stroke-linecap="square"/>
</svg>
<svg x="110" y="198" width="7" height="10" overflow="hidden">
<polyline points="2.5,0.5 4.5,0.5 6.5,2.5 6.5,7.5 4.5,9.5 2.5,9.5 0.5,7.5 0.5,2.5 2.5,0.5" fill="none" stroke="#000" stroke-width="1" stroke-linecap="square"/>
</svg>
<svg x="119" y="198" width="6" height="10" overflow="hidden">
<polyline points="5.5,1.5 4.5,0.5 1.5,0.5 0.5,1.5 0.5,3.5 1.5,4.5 4.5,5.5 5.5,6.5 5.5,8.5 4.5,9.5 1.5,9.5 0.5,8.5" fill="none" stroke="#000" stroke-width="1" stroke-linecap="square"/>
</svg>
<svg x="128" y="198" width="4" height="10" overflow="hidden">
<polyline points="3.5,0.5 0.5,9.5" fill="none" stroke="#000" stroke-width="1" stroke-linecap="square"/>
</svg>
<svg x="133" y="198" width="7" height="10" overflow="hidden">
<polyline points="2.5,0.5 4.5,0.5 6.5,2.5 6.5,7.5 4.5,9.5 2.5,9.5 0.5,7.5 0.5,2.5 2.5,0.5" fill="none" stroke="#000" stroke-width="1" stroke-linecap="square"/>
</svg>
<svg x="144" y="198" width="6" height="10" overflow="hidden">
<polyline points="0.5,0.5 0.5,9.5 3.5,9.5 5.5,7.5 5.5,2.5 3.5,0.5 0.5,0.5" fill="none" stroke="#000" stroke-width="1" stroke-linecap="square"/>
</svg>
<svg x="153" y="198" width="6" height="10" overflow="hidden">
<polyline points="0.5,0.5 0.5,9.5 3.5,9.5 5.5,7.5 5.5,2.5 3.5,0.5 0.5,0.5" fill="none" stroke="#000" stroke-width="1" stroke-linecap="square"/>
</svg>
<rect x="192" y="183" width="88" height="41" fill="#000"/>
<rect x="278" y="197" width="2" height="13" fill="#fff"/>
<polygon points="198.5,196 273.5,196 275,197.5 275,209.5 273.5,211 198.5,211 197,209.5 197,197.5" fill="#fff"/>
<svg x="201" y="198" width="5" height="10" overflow="hidden">
<polyline points="0.5,0.5 0.5,9.5" fill="none" stroke="#000" stroke-width="1" stroke-linecap="square"/>
<polyline points="0.5,0.5 3.5,0.5 4.5,1.5 4.5,3.5 3.5,4.5 0.5,4.5" fill="none" stroke="#000" stroke-width="1" stroke-linecap="square"/>
<polyline points="3.5,4.5 4.5,5.5 4.5,8.5 3.5,9.5 0.5,9.5" fill="none" stroke="#000" stroke-width="1" stroke-linecap="square"/>
</svg>
<svg x="209" y="198" width="1" height="10" overflow="hidden">
<polyline points="0.5,0.5 0.5,9.5" fill="none" stroke="#000" stroke-width="1" stroke-linecap="square"/>
</svg>
<svg x="213" y="198" width="7" height="10" overflow="hidden">
<polyline points="2.5,0.5 4.5,0.5 6.5,2.5 6.5,7.5 4.5,9.5 2.5,9.5 0.5,7.5 0.5,2.5 2.5,0.5" fill="none" stroke="#000" stroke-width="1" stroke-linecap="square"/>
</svg>
<svg x="223" y="198" width="6" height="10" overflow="hidden">
<polyline points="5.5,1.5 4.5,0.5 1.5,0.5 0.5,1.5 0.5,3.5 1.5,4.5 4.5,5.5 5.5,6.5 5.5,8.5 4.5,9.5 1.5,9.5 0.5,8.5" fill="none" stroke="#000" stroke-width="1" stroke-linecap="square"/>
</svg>
<svg x="231" y="198" width="4" height="10" overflow="hidden">
<polyline points="3.5,0.5 0.5,9.5" fill="none" stroke="#000" stroke-width="1" stroke-linecap="square"/>
</svg>
<svg x="238" y="198" width="5" height="10" overflow="hidden">
<polyline points="4.5,0.5 0.5,0.5 0.5,9.5 4.5,9.5" fill="none" stroke="#000" stroke-width="1" stroke-linecap="square"/>
<polyline points="0.5,4.5 3.5,4.5" fill="none" stroke="#000" stroke-width="1" stroke-linecap="square"/>
</svg>
<svg x="245" y="198" width="7" height="10" overflow="hidden">
<polyline points="0.5,0.5 3.5,9.5 6.5,0.5" fill="none" stroke="#000" stroke-width="1" stroke-linecap="square"/>
</svg>
<svg x="255" y="198" width="5" height="10" overflow="hidden">
<polyline points="4.5,0.5 0.5,0.5 0.5,9.5 4.5,9.5" fill="none" stroke="#000" stroke-width="1" stroke-linecap="square"/>
<polyline points="0.5,4.5 3.5,4.5" fill="none" stroke="#000" stroke-width="1" stroke-linecap="square"/>
</svg>
<svg x="263" y="198" width="6" height="10" overflow="hidden">
<polyline points="0.5,9.5 0.5,0.5 5.5,9.5 5.5,0.5" fill="none" stroke="#000" stroke-width="1" stroke-linecap="square"/>
</svg>
<rect x="529" y="17" width="202" height="20" fill="#000"/>
<rect x="537" y="24" width="186" height="6" fill="#fff"/>
<rect x="391" y="17" width="128" height="20" fill="#000"/>
<rect x="399" y="24" width="112" height="6" fill="#fff"/>
<rect x="529" y="62" width="202" height="20" fill="#000"/>
<rect x="537" y="69" width="186" height="6" fill="#fff"/>
<rect x="529" y="106" width="202" height="20" fill="#000"/>
<rect x="537" y="113" width="186" height="6" fill="#fff"/>
<rect x="391" y="106" width="128" height="20" fill="#000"/>
<rect x="399" y="113" width="112" height="6" fill="#fff"/>
<rect x="529" y="150" width="202" height="19" fill="#000"/>
<rect x="537" y="157" width="186" height="5" fill="#fff"/>
<rect x="391" y="150" width="128" height="19" fill="#000"/>
<rect x="399" y="157" width="112" height="5" fill="#fff"/>
<rect x="529" y="193" width="202" height="20" fill="#000"/>
<rect x="537" y="200" width="186" height="6" fill="#fff"/>
<rect x="391" y="193" width="128" height="20" fill="#000"/>
<rect x="399" y="200" width="112" height="6" fill="#fff"/>
<rect x="529" y="238" width="202" height="19" fill="#000"/>
<rect x="537" y="245" width="186" height="5" fill="#fff"/>
<rect x="391" y="238" width="128" height="19" fill="#000"/>
<rect x="399" y="245" width="112" height="5" fill="#fff"/>
<rect x="529" y="282" width="202" height="20" fill="#000"/>
<rect x="537" y="289" width="186" height="6" fill="#fff"/>
<rect x="529" y="327" width="202" height="19" fill="#000"/>
<rect x="537" y="334" width="186" height="5" fill="#fff"/>
<rect x="391" y="327" width="128" height="19" fill="#000"/>
<rect x="399" y="334" width="112" height="5" fill="#fff"/>
<svg x="610" y="44" width="6.4" height="9.1" overflow="hidden">
<polyline points="0.5,8.6 0.5,0.5 3.2,5 5.9,0.5 5.9,8.6" fill="none" stroke="#000" stroke-width="1" stroke-linecap="square"/>
<polyline points="0.5,1.4 3.2,5.9 5.9,1.4" fill="none" stroke="#000" stroke-width="1" stroke-linecap="square"/>
</svg>
<svg x="620" y="44" width="5.5" height="9.1" overflow="hidden">
<polyline points="0.5,0.5 0.5,8.6" fill="none" stroke="#000" stroke-width="1" stroke-linecap="square"/>
<polyline points="5,0.5 5,8.6" fill="none" stroke="#000" stroke-width="1" stroke-linecap="square"/>
<polyline points="0.5,4.1 5,4.1" fill="none" stroke="#000" stroke-width="1" stroke-linecap="square"/>
</svg>
<svg x="627" y="44" width="5" height="9.01" overflow="hidden">
<polyline points="2.5,1.39 0.5,3.17 0.5,6.73 2.5,8.51 4.5,6.73 4.5,3.17 2.5,1.39" fill="none" stroke="#000" stroke-width="1" stroke-linecap="square"/>
</svg>
<svg x="634" y="44" width="5" height="9.01" overflow="hidden">
<polyline points="4.5,4.06 3.5,4.95 1.5,4.95 0.5,4.06 0.5,2.28 1.5,1.39 3.5,1.39 4.5,2.28 4.5,7.62 3.5,8.51 1.5,8.51 0.5,7.62" fill="none" stroke="#000" stroke-width="1" stroke-linecap="square"/>
</svg>
<svg x="640" y="44" width="5" height="9.01" overflow="hidden">
<polyline points="0.5,2.28 1.5,1.39 3.5,1.39 4.5,2.28 4.5,4.06 3.5,4.95 2.5,4.95" fill="none" stroke="#000" stroke-width="1" stroke-linecap="square"/>
<polyline points="3.5,4.95 4.5,5.84 4.5,7.62 3.5,8.51 1.5,8.51 0.5,7.62" fill="none" stroke="#000" stroke-width="1" stroke-linecap="square"/>
</svg>
<svg x="647" y="44" width="5" height="9.01" overflow="hidden">
<polyline points="1.5,1.39 3.5,1.39 4.5,2.28 4.5,4.06 3.5,4.95 1.5,4.95 0.5,4.06 0.5,2.28 1.5,1.39" fill="none" stroke="#000" stroke-width="1" stroke-linecap="square"/>
<polyline points="1.5,4.95 0.5,5.84 0.5,7.62 1.5,8.51 3.5,8.51 4.5,7.62 4.5,5.84 3.5,4.95" fill="none" stroke="#000" stroke-width="1" stroke-linecap="square"/>
</svg>
<polygon points="75,259 133,259 136,262 136,321 133,324 73,324 70,321 70,264" fill="#000"/>
<rect x="79" y="259" width="1" height="2" fill="#fff"/>
<rect x="82" y="259" width="1" height="2" fill="#fff"/>
<rect x="84" y="259" width="1" height="2" fill="#fff"/>
<rect x="90" y="259" width="1" height="2" fill="#fff"/>
<rect x="93" y="259" width="1" height="2" fill="#fff"/>
<rect x="95" y="259" width="1" height="2" fill="#fff"/>
<rect x="108" y="259" width="1" height="2" fill="#fff"/>
<rect x="111" y="259" width="1" height="2" fill="#fff"/>
<rect x="113" y="259" width="1" height="2" fill="#fff"/>
<rect x="125" y="259" width="1" height="2" fill="#fff"/>
<rect x="128" y="259" width="1" height="2" fill="#fff"/>
<rect x="130" y="259" width="1" height="2" fill="#fff"/>
<rect x="78" y="322" width="1" height="2" fill="#fff"/>
<rect x="81" y="322" width="1" height="2" fill="#fff"/>
<rect x="83" y="322" width="1" height="2" fill="#fff"/>
<rect x="96" y="322" width="1" height="2" fill="#fff"/>
<rect x="99" y="322" width="1" height="2" fill="#fff"/>
<rect x="101" y="322" width="1" height="2" fill="#fff"/>
<rect x="113" y="322" width="1" height="2" fill="#fff"/>
<rect x="116" y="322" width="1" height="2" fill="#fff"/>
<rect x="118" y="322" width="1" height="2" fill="#fff"/>
<rect x="127" y="322" width="1" height="2" fill="#fff"/>
<rect x="130" y="322" width="1" height="2" fill="#fff"/>
<rect x="132" y="322" width="1" height="2" fill="#fff"/>
<rect x="133" y="263" width="3" height="1" fill="#fff"/>
<rect x="133" y="266" width="3" height="1" fill="#fff"/>
<rect x="133" y="268" width="3" height="1" fill="#fff"/>
<rect x="133" y="280" width="3" height="1" fill="#fff"/>
<rect x="133" y="283" width="3" height="1" fill="#fff"/>
<rect x="133" y="285" width="3" height="1" fill="#fff"/>
<rect x="133" y="297" width="3" height="1" fill="#fff"/>
<rect x="133" y="300" width="3" height="1" fill="#fff"/>
<rect x="133" y="302" width="3" height="1" fill="#fff"/>
<rect x="133" y="311" width="3" height="1" fill="#fff"/>
<rect x="133" y="314" width="3" height="1" fill="#fff"/>
<rect x="133" y="316" width="3" height="1" fill="#fff"/>
<rect x="70" y="271" width="3" height="1" fill="#fff"/>
<rect x="70" y="274" width="3" height="1" fill="#fff"/>
<rect x="70" y="276" width="3" height="1" fill="#fff"/>
<rect x="70" y="308" width="3" height="1" fill="#fff"/>
<rect x="70" y="311" width="3" height="1" fill="#fff"/>
<rect x="70" y="313" width="3" height="1" fill="#fff"/>
<rect x="70" y="316" width="3" height="1" fill="#fff"/>
<rect x="70" y="318" width="3" height="1" fill="#fff"/>
<circle cx="80" cy="268" r="2.4" fill="#fff" shape-rendering="auto"/>
<polygon points="262,259 321,259 324,262 324,321 321,324 262,324 259,321 259,262" fill="#000"/>
<rect x="267" y="259" width="1" height="2" fill="#fff"/>
<rect x="270" y="259" width="1" height="2" fill="#fff"/>
<rect x="272" y="259" width="1" height="2" fill="#fff"/>
<rect x="284" y="259" width="1" height="2" fill="#fff"/>
<rect x="287" y="259" width="1" height="2" fill="#fff"/>
<rect x="289" y="259" width="1" height="2" fill="#fff"/>
<rect x="301" y="259" width="1" height="2" fill="#fff"/>
<rect x="304" y="259" width="1" height="2" fill="#fff"/>
<rect x="306" y="259" width="1" height="2" fill="#fff"/>
<rect x="265" y="322" width="1" height="2" fill="#fff"/>
<rect x="268" y="322" width="1" height="2" fill="#fff"/>
<rect x="278" y="322" width="1" height="2" fill="#fff"/>
<rect x="281" y="322" width="1" height="2" fill="#fff"/>
<rect x="283" y="322" width="1" height="2" fill="#fff"/>
<rect x="295" y="322" width="1" height="2" fill="#fff"/>
<rect x="298" y="322" width="1" height="2" fill="#fff"/>
<rect x="300" y="322" width="1" height="2" fill="#fff"/>
<rect x="313" y="322" width="1" height="2" fill="#fff"/>
<rect x="316" y="322" width="1" height="2" fill="#fff"/>
<rect x="318" y="322" width="1" height="2" fill="#fff"/>
<rect x="321" y="267" width="3" height="1" fill="#fff"/>
<rect x="321" y="270" width="3" height="1" fill="#fff"/>
<rect x="321" y="272" width="3" height="1" fill="#fff"/>
<rect x="321" y="284" width="3" height="1" fill="#fff"/>
<rect x="321" y="287" width="3" height="1" fill="#fff"/>
<rect x="321" y="289" width="3" height="1" fill="#fff"/>
<rect x="321" y="299" width="3" height="1" fill="#fff"/>
<rect x="321" y="302" width="3" height="1" fill="#fff"/>
<rect x="321" y="304" width="3" height="1" fill="#fff"/>
<rect x="321" y="307" width="3" height="1" fill="#fff"/>
<rect x="259" y="272" width="3" height="1" fill="#fff"/>
<rect x="259" y="275" width="3" height="1" fill="#fff"/>
<rect x="259" y="277" width="3" height="1" fill="#fff"/>
<rect x="259" y="289" width="3" height="1" fill="#fff"/>
<rect x="259" y="292" width="3" height="1" fill="#fff"/>
<rect x="259" y="294" width="3" height="1" fill="#fff"/>
<rect x="259" y="303" width="3" height="1" fill="#fff"/>
<rect x="259" y="306" width="3" height="1" fill="#fff"/>
<rect x="259" y="308" width="3" height="1" fill="#fff"/>
<rect x="259" y="311" width="3" height="1" fill="#fff"/>
<circle cx="268.3" cy="314.5" r="2.4" fill="#fff" shape-rendering="auto"/>
<polygon points="262,394 321,394 324,397 324,456 321,459 262,459 259,456 259,397" fill="#000"/>
<rect x="267" y="394" width="1" height="2" fill="#fff"/>
<rect x="270" y="394" width="1" height="2" fill="#fff"/>
<rect x="272" y="394" width="1" height="2" fill="#fff"/>
<rect x="284" y="394" width="1" height="2" fill="#fff"/>
<rect x="287" y="394" width="1" height="2" fill="#fff"/>
<rect x="289" y="394" width="1" height="2" fill="#fff"/>
<rect x="301" y="394" width="1" height="2" fill="#fff"/>
<rect x="304" y="394" width="1" height="2" fill="#fff"/>
<rect x="306" y="394" width="1" height="2" fill="#fff"/>
<rect x="265" y="457" width="1" height="2" fill="#fff"/>
<rect x="268" y="457" width="1" height="2" fill="#fff"/>
<rect x="278" y="457" width="1" height="2" fill="#fff"/>
<rect x="281" y="457" width="1" height="2" fill="#fff"/>
<rect x="283" y="457" width="1" height="2" fill="#fff"/>
<rect x="295" y="457" width="1" height="2" fill="#fff"/>
<rect x="298" y="457" width="1" height="2" fill="#fff"/>
<rect x="300" y="457" width="1" height="2" fill="#fff"/>
<rect x="313" y="457" width="1" height="2" fill="#fff"/>
<rect x="316" y="457" width="1" height="2" fill="#fff"/>
<rect x="318" y="457" width="1" height="2" fill="#fff"/>
<rect x="321" y="405" width="3" height="1" fill="#fff"/>
<rect x="321" y="408" width="3" height="1" fill="#fff"/>
<rect x="321" y="410" width="3" height="1" fill="#fff"/>
<rect x="321" y="413" width="3" height="1" fill="#fff"/>
<rect x="321" y="421" width="3" height="1" fill="#fff"/>
<rect x="321" y="424" width="3" height="1" fill="#fff"/>
<rect x="321" y="426" width="3" height="1" fill="#fff"/>
<rect x="321" y="439" width="3" height="1" fill="#fff"/>
<rect x="321" y="442" width="3" height="1" fill="#fff"/>
<rect x="321" y="444" width="3" height="1" fill="#fff"/>
<rect x="259" y="410" width="3" height="1" fill="#fff"/>
<rect x="259" y="413" width="3" height="1" fill="#fff"/>
<rect x="259" y="415" width="3" height="1" fill="#fff"/>
<rect x="259" y="418" width="3" height="1" fill="#fff"/>
<rect x="259" y="427" width="3" height="1" fill="#fff"/>
<rect x="259" y="430" width="3" height="1" fill="#fff"/>
<rect x="259" y="432" width="3" height="1" fill="#fff"/>
<rect x="259" y="444" width="3" height="1" fill="#fff"/>
<rect x="259" y="447" width="3" height="1" fill="#fff"/>
<rect x="259" y="449" width="3" height="1" fill="#fff"/>
<circle cx="268.3" cy="449.5" r="2.4" fill="#fff" shape-rendering="auto"/>
<polygon points="422,394 481,394 484,397 484,456 481,459 422,459 419,456 419,397" fill="#000"/>
<rect x="427" y="394" width="1" height="2" fill="#fff"/>
<rect x="430" y="394" width="1" height="2" fill="#fff"/>
<rect x="441" y="394" width="1" height="2" fill="#fff"/>
<rect x="444" y="394" width="1" height="2" fill="#fff"/>
<rect x="446" y="394" width="1" height="2" fill="#fff"/>
<rect x="459" y="394" width="1" height="2" fill="#fff"/>
<rect x="462" y="394" width="1" height="2" fill="#fff"/>
<rect x="464" y="394" width="1" height="2" fill="#fff"/>
<rect x="467" y="394" width="1" height="2" fill="#fff"/>
<rect x="435" y="457" width="1" height="2" fill="#fff"/>
<rect x="438" y="457" width="1" height="2" fill="#fff"/>
<rect x="440" y="457" width="1" height="2" fill="#fff"/>
<rect x="452" y="457" width="1" height="2" fill="#fff"/>
<rect x="455" y="457" width="1" height="2" fill="#fff"/>
<rect x="457" y="457" width="1" height="2" fill="#fff"/>
<rect x="471" y="457" width="1" height="2" fill="#fff"/>
<rect x="474" y="457" width="1" height="2" fill="#fff"/>
<rect x="476" y="457" width="1" height="2" fill="#fff"/>
<rect x="481" y="405" width="3" height="1" fill="#fff"/>
<rect x="481" y="408" width="3" height="1" fill="#fff"/>
<rect x="481" y="410" width="3" height="1" fill="#fff"/>
<rect x="481" y="413" width="3" height="1" fill="#fff"/>
<rect x="481" y="421" width="3" height="1" fill="#fff"/>
<rect x="481" y="424" width="3" height="1" fill="#fff"/>
<rect x="481" y="426" width="3" height="1" fill="#fff"/>
<rect x="481" y="439" width="3" height="1" fill="#fff"/>
<rect x="481" y="442" width="3" height="1" fill="#fff"/>
<rect x="481" y="444" width="3" height="1" fill="#fff"/>
<rect x="419" y="410" width="3" height="1" fill="#fff"/>
<rect x="419" y="413" width="3" height="1" fill="#fff"/>
<rect x="419" y="415" width="3" height="1" fill="#fff"/>
<rect x="419" y="418" width="3" height="1" fill="#fff"/>
<rect x="419" y="427" width="3" height="1" fill="#fff"/>
<rect x="419" y="430" width="3" height="1" fill="#fff"/>
<rect x="419" y="432" width="3" height="1" fill="#fff"/>
<rect x="419" y="444" width="3" height="1" fill="#fff"/>
<rect x="419" y="447" width="3" height="1" fill="#fff"/>
<rect x="419" y="449" width="3" height="1" fill="#fff"/>
<circle cx="428.3" cy="449.5" r="2.4" fill="#fff" shape-rendering="auto"/>
<rect x="86" y="362" width="45" height="45" fill="#000"/>
<rect x="90" y="357" width="1" height="5" fill="#000"/>
<rect x="90" y="407" width="1" height="5" fill="#000"/>
<rect x="92" y="357" width="1" height="5" fill="#000"/>
<rect x="92" y="407" width="1" height="5" fill="#000"/>
<rect x="94" y="357" width="1" height="5" fill="#000"/>
<rect x="94" y="407" width="1" height="5" fill="#000"/>
<rect x="96" y="357" width="1" height="5" fill="#000"/>
<rect x="96" y="407" width="1" height="5" fill="#000"/>
<rect x="98" y="357" width="1" height="5" fill="#000"/>
<rect x="98" y="407" width="1" height="5" fill="#000"/>
<rect x="100" y="357" width="1" height="5" fill="#000"/>
<rect x="100" y="407" width="1" height="5" fill="#000"/>
<rect x="102" y="357" width="1" height="5" fill="#000"/>
<rect x="102" y="407" width="1" height="5" fill="#000"/>
<rect x="104" y="357" width="1" height="5" fill="#000"/>
<rect x="104" y="407" width="1" height="5" fill="#000"/>
<rect x="106" y="357" width="1" height="5" fill="#000"/>
<rect x="106" y="407" width="1" height="5" fill="#000"/>
<rect x="108" y="357" width="1" height="5" fill="#000"/>
<rect x="108" y="407" width="1" height="5" fill="#000"/>
<rect x="110" y="357" width="1" height="5" fill="#000"/>
<rect x="110" y="407" width="1" height="5" fill="#000"/>
<rect x="112" y="357" width="1" height="5" fill="#000"/>
<rect x="112" y="407" width="1" height="5" fill="#000"/>
<rect x="114" y="357" width="1" height="5" fill="#000"/>
<rect x="114" y="407" width="1" height="5" fill="#000"/>
<rect x="116" y="357" width="1" height="5" fill="#000"/>
<rect x="116" y="407" width="1" height="5" fill="#000"/>
<rect x="118" y="357" width="1" height="5" fill="#000"/>
<rect x="118" y="407" width="1" height="5" fill="#000"/>
<rect x="120" y="357" width="1" height="5" fill="#000"/>
<rect x="120" y="407" width="1" height="5" fill="#000"/>
<rect x="122" y="357" width="1" height="5" fill="#000"/>
<rect x="122" y="407" width="1" height="5" fill="#000"/>
<rect x="124" y="357" width="1" height="5" fill="#000"/>
<rect x="124" y="407" width="1" height="5" fill="#000"/>
<rect x="126" y="357" width="1" height="5" fill="#000"/>
<rect x="126" y="407" width="1" height="5" fill="#000"/>
<rect x="81" y="365" width="5" height="1" fill="#000"/>
<rect x="131" y="365" width="5" height="1" fill="#000"/>
<rect x="81" y="367" width="5" height="1" fill="#000"/>
<rect x="131" y="367" width="5" height="1" fill="#000"/>
<rect x="81" y="369" width="5" height="1" fill="#000"/>
<rect x="131" y="369" width="5" height="1" fill="#000"/>
<rect x="81" y="371" width="5" height="1" fill="#000"/>
<rect x="131" y="371" width="5" height="1" fill="#000"/>
<rect x="81" y="373" width="5" height="1" fill="#000"/>
<rect x="131" y="373" width="5" height="1" fill="#000"/>
<rect x="81" y="375" width="5" height="1" fill="#000"/>
<rect x="131" y="375" width="5" height="1" fill="#000"/>
<rect x="81" y="377" width="5" height="1" fill="#000"/>
<rect x="131" y="377" width="5" height="1" fill="#000"/>
<rect x="81" y="379" width="5" height="1" fill="#000"/>
<rect x="131" y="379" width="5" height="1" fill="#000"/>
<rect x="81" y="381" width="5" height="1" fill="#000"/>
<rect x="131" y="381" width="5" height="1" fill="#000"/>
<rect x="81" y="383" width="5" height="1" fill="#000"/>
<rect x="131" y="383" width="5" height="1" fill="#000"/>
<rect x="81" y="385" width="5" height="1" fill="#000"/>
<rect x="131" y="385" width="5" height="1" fill="#000"/>
<rect x="81" y="387" width="5" height="1" fill="#000"/>
<rect x="131" y="387" width="5" height="1" fill="#000"/>
<rect x="81" y="389" width="5" height="1" fill="#000"/>
<rect x="131" y="389" width="5" height="1" fill="#000"/>
<rect x="81" y="391" width="5" height="1" fill="#000"/>
<rect x="131" y="391" width="5" height="1" fill="#000"/>
<rect x="81" y="393" width="5" height="1" fill="#000"/>
<rect x="131" y="393" width="5" height="1" fill="#000"/>
<rect x="81" y="395" width="5" height="1" fill="#000"/>
<rect x="131" y="395" width="5" height="1" fill="#000"/>
<rect x="81" y="397" width="5" height="1" fill="#000"/>
<rect x="131" y="397" width="5" height="1" fill="#000"/>
<rect x="81" y="399" width="5" height="1" fill="#000"/>
<rect x="131" y="399" width="5" height="1" fill="#000"/>
<rect x="81" y="401" width="5" height="1" fill="#000"/>
<rect x="131" y="401" width="5" height="1" fill="#000"/>
<rect x="81" y="403" width="5" height="1" fill="#000"/>
<rect x="131" y="403" width="5" height="1" fill="#000"/>
<line x1="83.2" y1="359.3" x2="87.5" y2="363.5" stroke="#000" stroke-width="4.6" stroke-linecap="round" shape-rendering="auto"/>
<line x1="133.8" y1="359.3" x2="129.5" y2="363.5" stroke="#000" stroke-width="4.6" stroke-linecap="round" shape-rendering="auto"/>
<line x1="83.2" y1="409.7" x2="87.5" y2="405.5" stroke="#000" stroke-width="4.6" stroke-linecap="round" shape-rendering="auto"/>
<line x1="133.8" y1="409.7" x2="129.5" y2="405.5" stroke="#000" stroke-width="4.6" stroke-linecap="round" shape-rendering="auto"/>
<circle cx="92.6" cy="368.3" r="2.8" fill="#fff" shape-rendering="auto"/>
<polygon points="95,378 122,378 123,379 123,391 122,392 95,392 94,391 94,379" fill="#fff"/>
<svg x="95" y="379" width="6" height="10" overflow="hidden">
<polyline points="5.5,2.5 5.5,1.5 4.5,0.5 2.5,0.5 1.5,1.5 0.5,2.5 0.5,7.5 1.5,8.5 2.5,9.5 4.5,9.5 5.5,8.5 5.5,7.5" fill="none" stroke="#000" stroke-width="1" stroke-linecap="square"/>
</svg>
<svg x="105" y="379" width="5" height="10" overflow="hidden">
<polyline points="0.5,9.5 0.5,0.5 3.5,0.5 4.5,1.5 4.5,4.5 3.5,5.5 0.5,5.5" fill="none" stroke="#000" stroke-width="1" stroke-linecap="square"/>
</svg>
<svg x="114" y="379" width="6" height="10" overflow="hidden">
<polyline points="0.5,0.5 0.5,6.5 1.5,8.5 2.5,9.5 3.5,9.5 4.5,8.5 5.5,6.5 5.5,0.5" fill="none" stroke="#000" stroke-width="1" stroke-linecap="square"/>
</svg>
<rect x="75" y="439" width="61" height="2" fill="#000"/>
<rect x="75" y="439" width="3" height="60" fill="#000"/>
<rect x="75" y="497" width="61" height="2" fill="#000"/>
<rect x="134" y="439" width="2" height="60" fill="#000"/>
<rect x="75" y="439" width="8" height="7" fill="#000"/>
<rect x="75" y="446" width="6" height="1" fill="#000"/>
<rect x="75" y="491" width="7" height="8" fill="#000"/>
<rect x="129" y="491" width="7" height="8" fill="#000"/>
<polygon points="131,438 137,438 137,445" fill="#fff"/>
<line x1="130.5" y1="439.5" x2="135.5" y2="445" stroke="#000" stroke-width="1.5" shape-rendering="auto"/>
<circle cx="131" cy="443.8" r="2.5" fill="#fff" stroke="#000" stroke-width="1.5" shape-rendering="auto"/>
<rect x="101" y="441" width="1" height="5" fill="#000"/>
<rect x="112" y="441" width="1" height="5" fill="#000"/>
<rect x="122" y="441" width="1" height="5" fill="#000"/>
<rect x="94" y="492" width="1" height="5" fill="#000"/>
<rect x="105" y="492" width="1" height="5" fill="#000"/>
<rect x="114" y="492" width="1" height="5" fill="#000"/>
<rect x="129" y="471" width="5" height="1" fill="#000"/>
<rect x="78" y="473" width="4" height="1" fill="#000"/>
<polygon points="91,460 120,460 122,462 122,476 119,479 92,479 89,476 89,462" fill="#000"/>
<polygon points="93,462 119,462 120,463 120,475 119,476 93,476 92,475 92,463" fill="#fff"/>
<svg x="93" y="463" width="6" height="10" overflow="hidden">
<polyline points="0.5,9.5 0.5,0.5 5.5,9.5 5.5,0.5" fill="none" stroke="#000" stroke-width="1" stroke-linecap="square"/>
</svg>
<svg x="103" y="463" width="5" height="10" overflow="hidden">
<polyline points="0.5,9.5 0.5,0.5 3.5,0.5 4.5,1.5 4.5,4.5 3.5,5.5 0.5,5.5" fill="none" stroke="#000" stroke-width="1" stroke-linecap="square"/>
</svg>
<svg x="111" y="463" width="6" height="10" overflow="hidden">
<polyline points="0.5,0.5 0.5,6.5 1.5,8.5 2.5,9.5 3.5,9.5 4.5,8.5 5.5,6.5 5.5,0.5" fill="none" stroke="#000" stroke-width="1" stroke-linecap="square"/>
</svg>
<rect x="11" y="215" width="26" height="7" fill="#000"/>
<rect x="12" y="216" width="24" height="1" fill="#fff"/>
<rect x="18" y="216" width="1" height="5" fill="#fff"/>
<rect x="24" y="216" width="1" height="5" fill="#fff"/>
<rect x="29" y="216" width="1" height="5" fill="#fff"/>
<rect x="12" y="216" width="1" height="5" fill="#fff"/>
<rect x="35" y="216" width="1" height="5" fill="#fff"/>
<polygon points="55,209 77,209 78,210 78,227 77,228 54,228 53,227 53,211" fill="#000"/>
<rect x="55" y="212" width="21" height="14" fill="#fff"/>
<polygon points="37,217.5 41,217.5 41,216.9 45.5,216.9 46,215.7 50,214.7 51.5,213 53,211 54,211 54,225 53,225 51.5,223.1 50,221.9 47.5,220.9 41,220.9 41,219 37,219" fill="#000"/>
<polygon points="45.5,218 50,216.9 55.5,215.9 55.5,220.7 50,219.9 47.5,219" fill="#fff"/>
<svg x="59" y="213" width="4" height="10" overflow="hidden">
<polyline points="3.5,0.5 3.5,8.5 2.5,9.5 1.5,9.5 0.5,8.5 0.5,7.5" fill="none" stroke="#000" stroke-width="1" stroke-linecap="square"/>
</svg>
<svg x="67" y="213" width="3" height="10" overflow="hidden">
<polyline points="0.5,3.5 1.5,3.5 2.5,2.5" fill="none" stroke="#000" stroke-width="1" stroke-linecap="square"/>
<polyline points="2.5,1.5 2.5,9.5" fill="none" stroke="#000" stroke-width="1" stroke-linecap="square"/>
</svg>
<rect x="11" y="262" width="14" height="7" fill="#000"/>
<rect x="12" y="263" width="1" height="5" fill="#fff"/>
<rect x="18" y="263" width="1" height="5" fill="#fff"/>
<rect x="23" y="263" width="1" height="5" fill="#fff"/>
<polygon points="43,256 63,256 66,259 66,272 63,275 43,275 40,272 40,259" fill="#000"/>
<polygon points="44,258.5 62,258.5 64,260.5 64,271 62,273 44,273 42,271 42,260.5" fill="#fff"/>
<polygon points="25,264.4 29,264.4 29,263 34,263 37,261.8 41,261.6 41,268.8 37,268.6 34,267.8 29,267.8 29,266.8 25,266.8" fill="#000"/>
<polygon points="33.7,265.5 43,263.6 43,267.2" fill="#fff"/>
<svg x="45" y="260" width="4" height="10" overflow="hidden">
<polyline points="3.5,0.5 3.5,8.5 2.5,9.5 1.5,9.5 0.5,8.5 0.5,7.5" fill="none" stroke="#000" stroke-width="1" stroke-linecap="square"/>
</svg>
<svg x="53" y="260" width="5" height="10" overflow="hidden">
<polyline points="0.5,3.5 0.5,2.5 1.5,1.5 3.5,1.5 4.5,2.5 4.5,4.5 0.5,9.5 4.5,9.5" fill="none" stroke="#000" stroke-width="1" stroke-linecap="square"/>
</svg>
<rect x="11" y="287" width="31" height="7" fill="#000"/>
<rect x="12" y="288" width="29" height="1" fill="#fff"/>
<rect x="18" y="288" width="1" height="5" fill="#fff"/>
<rect x="23" y="288" width="1" height="5" fill="#fff"/>
<rect x="29" y="288" width="1" height="5" fill="#fff"/>
<rect x="35" y="288" width="1" height="5" fill="#fff"/>
<rect x="12" y="288" width="1" height="5" fill="#fff"/>
<polygon points="61,281 84,281 84,281 84,300 84,300 59,300 58,299 58,284" fill="#000"/>
<rect x="60" y="284" width="21" height="14" fill="#fff"/>
<polygon points="42,289.5 46,289.5 46,288.9 50.5,288.9 51,287.7 55,286.7 56.5,285 58,283 59,283 59,297 58,297 56.5,295.1 55,293.9 52.5,292.9 46,292.9 46,291 42,291" fill="#000"/>
<polygon points="50.5,290 55,288.9 60.5,287.9 60.5,292.7 55,291.9 52.5,291" fill="#fff"/>
<svg x="63" y="285" width="4" height="10" overflow="hidden">
<polyline points="3.5,0.5 3.5,8.5 2.5,9.5 1.5,9.5 0.5,8.5 0.5,7.5" fill="none" stroke="#000" stroke-width="1" stroke-linecap="square"/>
</svg>
<svg x="70" y="285" width="5" height="10" overflow="hidden">
<polyline points="0.5,2.5 1.5,1.5 3.5,1.5 4.5,2.5 4.5,4.5 3.5,5.5 2.5,5.5" fill="none" stroke="#000" stroke-width="1" stroke-linecap="square"/>
<polyline points="3.5,5.5 4.5,6.5 4.5,8.5 3.5,9.5 1.5,9.5 0.5,8.5" fill="none" stroke="#000" stroke-width="1" stroke-linecap="square"/>
</svg>
<rect x="11" y="381" width="14" height="7" fill="#000"/>
<rect x="12" y="382" width="12" height="1" fill="#fff"/>
<rect x="18" y="382" width="1" height="5" fill="#fff"/>
<rect x="12" y="382" width="1" height="5" fill="#fff"/>
<rect x="23" y="382" width="1" height="5" fill="#fff"/>
<polygon points="43,375 65,375 66,376 66,393 65,394 42,394 41,393 41,377" fill="#000"/>
<rect x="43" y="378" width="21" height="14" fill="#fff"/>
<polygon points="25,383.5 29,383.5 29,382.9 33.5,382.9 34,381.7 38,380.7 39.5,379 41,377 42,377 42,391 41,391 39.5,389.1 38,387.9 35.5,386.9 29,386.9 29,385 25,385" fill="#000"/>
<polygon points="33.5,384 38,382.9 43.5,381.9 43.5,386.7 38,385.9 35.5,385" fill="#fff"/>
<svg x="46" y="379" width="4" height="10" overflow="hidden">
<polyline points="3.5,0.5 3.5,8.5 2.5,9.5 1.5,9.5 0.5,8.5 0.5,7.5" fill="none" stroke="#000" stroke-width="1" stroke-linecap="square"/>
</svg>
<svg x="53" y="379" width="5" height="10" overflow="hidden">
<polyline points="3.5,9.5 3.5,1.5 0.5,6.5 0.5,7.5 4.5,7.5" fill="none" stroke="#000" stroke-width="1" stroke-linecap="square"/>
</svg>
<rect x="600" y="437" width="127" height="43" fill="#000"/>
<rect x="725" y="453" width="2" height="12" fill="#fff"/>
<rect x="603" y="439" width="4" height="1" fill="#fff"/>
<rect x="610" y="439" width="4" height="1" fill="#fff"/>
<rect x="616" y="439" width="4" height="1" fill="#fff"/>
<rect x="623" y="439" width="4" height="1" fill="#fff"/>
<rect x="629" y="439" width="4" height="1" fill="#fff"/>
<rect x="636" y="439" width="4" height="1" fill="#fff"/>
<rect x="643" y="439" width="4" height="1" fill="#fff"/>
<rect x="649" y="439" width="4" height="1" fill="#fff"/>
<rect x="656" y="439" width="4" height="1" fill="#fff"/>
<rect x="663" y="439" width="4" height="1" fill="#fff"/>
<rect x="669" y="439" width="4" height="1" fill="#fff"/>
<rect x="676" y="439" width="4" height="1" fill="#fff"/>
<rect x="682" y="439" width="4" height="1" fill="#fff"/>
<rect x="689" y="439" width="4" height="1" fill="#fff"/>
<rect x="696" y="439" width="4" height="1" fill="#fff"/>
<rect x="702" y="439" width="4" height="1" fill="#fff"/>
<rect x="709" y="439" width="4" height="1" fill="#fff"/>
<rect x="716" y="439" width="4" height="1" fill="#fff"/>
<rect x="722" y="439" width="4" height="1" fill="#fff"/>
<polygon points="650.5,451 676.5,451 678,452.5 678,464.5 676.5,466 650.5,466 649,464.5 649,452.5" fill="#fff"/>
<svg x="652" y="453" width="6" height="10" overflow="hidden">
<polyline points="0.5,0.5 0.5,9.5" fill="none" stroke="#000" stroke-width="1" stroke-linecap="square"/>
<polyline points="5.5,0.5 0.5,5.5" fill="none" stroke="#000" stroke-width="1" stroke-linecap="square"/>
<polyline points="2.5,4.5 5.5,9.5" fill="none" stroke="#000" stroke-width="1" stroke-linecap="square"/>
</svg>
<svg x="660" y="453" width="5" height="10" overflow="hidden">
<polyline points="0.5,0.5 0.5,9.5" fill="none" stroke="#000" stroke-width="1" stroke-linecap="square"/>
<polyline points="0.5,0.5 3.5,0.5 4.5,1.5 4.5,3.5 3.5,4.5 0.5,4.5" fill="none" stroke="#000" stroke-width="1" stroke-linecap="square"/>
<polyline points="3.5,4.5 4.5,5.5 4.5,8.5 3.5,9.5 0.5,9.5" fill="none" stroke="#000" stroke-width="1" stroke-linecap="square"/>
</svg>
<svg x="669" y="453" width="6" height="10" overflow="hidden">
<polyline points="0.5,0.5 0.5,9.5 3.5,9.5 5.5,7.5 5.5,2.5 3.5,0.5 0.5,0.5" fill="none" stroke="#000" stroke-width="1" stroke-linecap="square"/>
</svg>
<rect x="621" y="480" width="36" height="14" fill="#000"/>
<rect x="621" y="494" width="34" height="2.5" fill="#000"/>
<rect x="624" y="480" width="31" height="14" fill="#fff"/>
<rect x="656" y="484" width="4" height="7" fill="#000"/>
<rect x="660" y="485" width="4" height="5" fill="#000"/>
<rect x="664" y="486" width="4" height="3" fill="#000"/>
<rect x="668" y="487" width="4" height="1" fill="#000"/>
<rect x="655" y="486" width="5" height="3" fill="#fff"/>
<rect x="660" y="487" width="2" height="1" fill="#fff"/>
<svg x="628" y="482" width="4" height="10" overflow="hidden">
<polyline points="3.5,0.5 3.5,8.5 2.5,9.5 1.5,9.5 0.5,8.5 0.5,7.5" fill="none" stroke="#000" stroke-width="1" stroke-linecap="square"/>
</svg>
<svg x="637" y="482" width="5" height="10" overflow="hidden">
<polyline points="0.5,9.5 0.5,0.5 3.5,0.5 4.5,1.5 4.5,4.5 3.5,5.5 0.5,5.5" fill="none" stroke="#000" stroke-width="1" stroke-linecap="square"/>
</svg>
<svg x="645" y="482" width="3" height="10" overflow="hidden">
<polyline points="0.5,3.5 1.5,3.5 2.5,2.5" fill="none" stroke="#000" stroke-width="1" stroke-linecap="square"/>
<polyline points="2.5,1.5 2.5,9.5" fill="none" stroke="#000" stroke-width="1" stroke-linecap="square"/>
</svg>
<rect x="673" y="484" width="13" height="7" fill="#000"/>
<rect x="674" y="489" width="11" height="1" fill="#fff"/>
<rect x="679" y="485" width="1" height="5" fill="#fff"/>
<rect x="684" y="485" width="1" height="5" fill="#fff"/>
<rect x="755" y="442" width="30" height="38" fill="#000"/>
<rect x="779" y="438" width="6" height="46" fill="#000"/>
<rect x="782" y="436" width="3" height="50" fill="#000"/>
<rect x="748" y="451" width="5" height="9" fill="#000"/>
<rect x="749" y="452" width="3" height="7" fill="#fff"/>
<rect x="748" y="462" width="5" height="9" fill="#000"/>
<rect x="749" y="463" width="3" height="7" fill="#fff"/>
<rect x="752" y="449" width="3" height="24" fill="#000"/>
<rect x="753" y="451" width="2" height="1" fill="#fff"/>
<rect x="753" y="453" width="2" height="1" fill="#fff"/>
<rect x="753" y="455" width="2" height="1" fill="#fff"/>
<rect x="753" y="457" width="2" height="1" fill="#fff"/>
<rect x="753" y="464" width="2" height="1" fill="#fff"/>
<rect x="753" y="466" width="2" height="1" fill="#fff"/>
<rect x="753" y="468" width="2" height="1" fill="#fff"/>
<rect x="753" y="470" width="2" height="1" fill="#fff"/>
<rect x="752" y="460" width="3" height="2" fill="#fff"/>
<rect x="754" y="459" width="1" height="4" fill="#000"/>
<rect x="623" y="495" width="114" height="25" fill="#000"/>
<rect x="624" y="496" width="112" height="23" fill="#fff"/>
<rect x="624" y="503" width="112" height="1" fill="#000"/>
<rect x="625" y="499" width="8" height="3" fill="#000"/>
<rect x="626" y="500" width="6" height="1" fill="#fff"/>
<rect x="627" y="502" width="4" height="1" fill="#000"/>
<rect x="625" y="506" width="8" height="2" fill="#000"/>
<rect x="634" y="499" width="8" height="3" fill="#000"/>
<rect x="635" y="500" width="6" height="1" fill="#fff"/>
<rect x="636" y="502" width="4" height="1" fill="#000"/>
<rect x="634" y="506" width="8" height="2" fill="#000"/>
<rect x="644" y="499" width="8" height="3" fill="#000"/>
<rect x="645" y="500" width="6" height="1" fill="#fff"/>
<rect x="646" y="502" width="4" height="1" fill="#000"/>
<rect x="644" y="506" width="8" height="2" fill="#000"/>
<rect x="653" y="499" width="8" height="3" fill="#000"/>
<rect x="654" y="500" width="6" height="1" fill="#fff"/>
<rect x="655" y="502" width="4" height="1" fill="#000"/>
<rect x="653" y="506" width="8" height="2" fill="#000"/>
<rect x="662" y="499" width="8" height="3" fill="#000"/>
<rect x="663" y="500" width="6" height="1" fill="#fff"/>
<rect x="664" y="502" width="4" height="1" fill="#000"/>
<rect x="662" y="506" width="8" height="2" fill="#000"/>
<rect x="671" y="499" width="8" height="3" fill="#000"/>
<rect x="672" y="500" width="6" height="1" fill="#fff"/>
<rect x="673" y="502" width="4" height="1" fill="#000"/>
<rect x="671" y="506" width="8" height="2" fill="#000"/>
<rect x="681" y="499" width="8" height="3" fill="#000"/>
<rect x="682" y="500" width="6" height="1" fill="#fff"/>
<rect x="683" y="502" width="4" height="1" fill="#000"/>
<rect x="681" y="506" width="8" height="2" fill="#000"/>
<rect x="690" y="499" width="8" height="3" fill="#000"/>
<rect x="691" y="500" width="6" height="1" fill="#fff"/>
<rect x="692" y="502" width="4" height="1" fill="#000"/>
<rect x="690" y="506" width="8" height="2" fill="#000"/>
<rect x="699" y="499" width="8" height="3" fill="#000"/>
<rect x="700" y="500" width="6" height="1" fill="#fff"/>
<rect x="701" y="502" width="4" height="1" fill="#000"/>
<rect x="699" y="506" width="8" height="2" fill="#000"/>
<rect x="708" y="499" width="8" height="3" fill="#000"/>
<rect x="709" y="500" width="6" height="1" fill="#fff"/>
<rect x="710" y="502" width="4" height="1" fill="#000"/>
<rect x="708" y="506" width="8" height="2" fill="#000"/>
<rect x="718" y="499" width="8" height="3" fill="#000"/>
<rect x="719" y="500" width="6" height="1" fill="#fff"/>
<rect x="720" y="502" width="4" height="1" fill="#000"/>
<rect x="718" y="506" width="8" height="2" fill="#000"/>
<rect x="727" y="499" width="8" height="3" fill="#000"/>
<rect x="728" y="500" width="6" height="1" fill="#fff"/>
<rect x="729" y="502" width="4" height="1" fill="#000"/>
<rect x="727" y="506" width="8" height="2" fill="#000"/>
<rect x="629" y="509" width="8" height="8" fill="#000"/>
<rect x="630" y="510" width="6" height="6" fill="#fff"/>
<rect x="639" y="509" width="8" height="8" fill="#000"/>
<rect x="640" y="510" width="6" height="6" fill="#fff"/>
<rect x="648" y="509" width="8" height="8" fill="#000"/>
<rect x="649" y="510" width="6" height="6" fill="#fff"/>
<rect x="658" y="509" width="8" height="8" fill="#000"/>
<rect x="659" y="510" width="6" height="6" fill="#fff"/>
<rect x="667" y="509" width="8" height="8" fill="#000"/>
<rect x="668" y="510" width="6" height="6" fill="#fff"/>
<rect x="677" y="509" width="8" height="8" fill="#000"/>
<rect x="678" y="510" width="6" height="6" fill="#fff"/>
<rect x="686" y="509" width="8" height="8" fill="#000"/>
<rect x="687" y="510" width="6" height="6" fill="#fff"/>
<rect x="695" y="509" width="8" height="8" fill="#000"/>
<rect x="696" y="510" width="6" height="6" fill="#fff"/>
<rect x="705" y="509" width="8" height="8" fill="#000"/>
<rect x="706" y="510" width="6" height="6" fill="#fff"/>
<rect x="714" y="509" width="8" height="8" fill="#000"/>
<rect x="715" y="510" width="6" height="6" fill="#fff"/>
<rect x="724" y="509" width="8" height="8" fill="#000"/>
<rect x="725" y="510" width="6" height="6" fill="#fff"/>
<rect x="624" y="509" width="3" height="8" fill="#000"/>
<rect x="624" y="510" width="2" height="2" fill="#fff"/>
<rect x="624" y="514" width="2" height="2" fill="#fff"/>
<rect x="733" y="509" width="3" height="8" fill="#000"/>
<rect x="734" y="510" width="2" height="2" fill="#fff"/>
<rect x="734" y="514" width="2" height="2" fill="#fff"/>
<polygon points="461,498 491,498 494,501 494,514 491,517 461,517 458,514 458,501" fill="#000"/>
<polygon points="462,500 490,500 492,502 492,512.5 490,514.5 462,514.5 460,512.5 460,502" fill="#fff"/>
<rect x="493" y="504" width="4" height="6" fill="#000"/>
<rect x="497" y="505" width="3" height="4" fill="#000"/>
<rect x="500" y="506" width="4" height="2" fill="#000"/>
<rect x="504" y="507" width="5" height="1" fill="#000"/>
<rect x="492" y="506" width="7" height="2" fill="#fff"/>
<svg x="464" y="501" width="4" height="10" overflow="hidden">
<polyline points="3.5,0.5 3.5,8.5 2.5,9.5 1.5,9.5 0.5,8.5 0.5,7.5" fill="none" stroke="#000" stroke-width="1" stroke-linecap="square"/>
</svg>
<svg x="472" y="501" width="5" height="10" overflow="hidden">
<polyline points="0.5,9.5 0.5,0.5 3.5,0.5 4.5,1.5 4.5,4.5 3.5,5.5 0.5,5.5" fill="none" stroke="#000" stroke-width="1" stroke-linecap="square"/>
</svg>
<svg x="480" y="501" width="5" height="10" overflow="hidden">
<polyline points="0.5,3.5 0.5,2.5 1.5,1.5 3.5,1.5 4.5,2.5 4.5,4.5 0.5,9.5 4.5,9.5" fill="none" stroke="#000" stroke-width="1" stroke-linecap="square"/>
</svg>
<rect x="510" y="497" width="7" height="20" fill="#000"/>
<rect x="511" y="498" width="5" height="18" fill="#fff"/>
<rect x="511" y="499" width="4" height="5" fill="#000"/>
<rect x="512" y="500" width="2" height="3" fill="#fff"/>
<rect x="511" y="505" width="4" height="4" fill="#000"/>
<rect x="511" y="511" width="4" height="4" fill="#000"/>
<rect x="572" y="491" width="7" height="26" fill="#000"/>
<rect x="573" y="492" width="5" height="24" fill="#fff"/>
<rect x="573" y="493" width="4" height="4" fill="#000"/>
<rect x="573" y="499" width="4" height="4" fill="#000"/>
<rect x="573" y="505" width="4" height="4" fill="#000"/>
<rect x="573" y="511" width="4" height="4" fill="#000"/>
<polygon points="543,465 562,465 565,468 565,483 564,484 543,484 540,481 540,468" fill="#000"/>
<polygon points="544,467 561,467 563,469 563,480 562,481 544,481 542,479 542,469" fill="#fff"/>
<polygon points="564.7,480 572,489.3 572,490.8 570,490.8 560.5,483.8" fill="#000"/>
<polygon points="563,481.5 565.3,483.6 564.3,484.2" fill="#fff"/>
<svg x="546" y="468" width="4" height="10" overflow="hidden">
<polyline points="3.5,0.5 3.5,8.5 2.5,9.5 1.5,9.5 0.5,8.5 0.5,7.5" fill="none" stroke="#000" stroke-width="1" stroke-linecap="square"/>
</svg>
<svg x="553" y="468" width="5" height="10" overflow="hidden">
<polyline points="4.5,1.5 0.5,1.5 0.5,4.5 3.5,4.5 4.5,5.5 4.5,8.5 3.5,9.5 1.5,9.5 0.5,8.5" fill="none" stroke="#000" stroke-width="1" stroke-linecap="square"/>
</svg>
<path d="M522.5,495 L522.5,494 L523.5,493 L525.5,492.5 L531.5,492.5 L535.5,494.5 L536.5,494.5 L541.5,492.5 L543.5,492.5 L548.5,494.5 L549.5,494.5 L553.5,492.5 L559.5,492.5 L561.5,493.5 L562.5,495 L562.5,516 L561.5,517.5 L559.5,518.5 L555.5,518.5 L553.5,517.5 L546.5,517.5 L545.5,518.5 L540.5,518.5 L539.5,517.5 L530.5,517.5 L529.5,518.5 L526.5,518.5 L523.5,517.5 L522.5,516 Z" fill="none" stroke="#000" stroke-width="1"/>
<rect x="187" y="20" width="57" height="19" fill="#000"/>
<rect x="188" y="23" width="55" height="14" fill="#fff"/>
<svg x="192" y="24" width="5" height="10" overflow="hidden">
<polyline points="0.5,0.5 0.5,9.5" fill="none" stroke="#000" stroke-width="1" stroke-linecap="square"/>
<polyline points="0.5,0.5 3.5,0.5 4.5,1.5 4.5,3.5 3.5,4.5 0.5,4.5" fill="none" stroke="#000" stroke-width="1" stroke-linecap="square"/>
<polyline points="3.5,4.5 4.5,5.5 4.5,8.5 3.5,9.5 0.5,9.5" fill="none" stroke="#000" stroke-width="1" stroke-linecap="square"/>
</svg>
<svg x="200" y="24" width="7" height="10" overflow="hidden">
<polyline points="0.5,9.5 3.5,0.5 6.5,9.5" fill="none" stroke="#000" stroke-width="1" stroke-linecap="square"/>
<polyline points="1.5,6.5 5.5,6.5" fill="none" stroke="#000" stroke-width="1" stroke-linecap="square"/>
</svg>
<svg x="210" y="24" width="6" height="10" overflow="hidden">
<polyline points="0.5,9.5 0.5,0.5 5.5,9.5 5.5,0.5" fill="none" stroke="#000" stroke-width="1" stroke-linecap="square"/>
</svg>
<svg x="219" y="24" width="6" height="10" overflow="hidden">
<polyline points="0.5,0.5 0.5,9.5" fill="none" stroke="#000" stroke-width="1" stroke-linecap="square"/>
<polyline points="5.5,0.5 0.5,5.5" fill="none" stroke="#000" stroke-width="1" stroke-linecap="square"/>
<polyline points="2.5,4.5 5.5,9.5" fill="none" stroke="#000" stroke-width="1" stroke-linecap="square"/>
</svg>
<svg x="233" y="24" width="5" height="10" overflow="hidden">
<polyline points="2.5,1.5 0.5,3.5 0.5,7.5 2.5,9.5 4.5,7.5 4.5,3.5 2.5,1.5" fill="none" stroke="#000" stroke-width="1" stroke-linecap="square"/>
</svg>
<rect x="190" y="58" width="61" height="19" fill="#000"/>
<rect x="191" y="60" width="55" height="14" fill="#fff"/>
<svg x="196" y="62" width="5" height="10" overflow="hidden">
<polyline points="0.5,0.5 0.5,9.5" fill="none" stroke="#000" stroke-width="1" stroke-linecap="square"/>
<polyline points="0.5,0.5 3.5,0.5 4.5,1.5 4.5,3.5 3.5,4.5 0.5,4.5" fill="none" stroke="#000" stroke-width="1" stroke-linecap="square"/>
<polyline points="3.5,4.5 4.5,5.5 4.5,8.5 3.5,9.5 0.5,9.5" fill="none" stroke="#000" stroke-width="1" stroke-linecap="square"/>
</svg>
<svg x="203" y="62" width="7" height="10" overflow="hidden">
<polyline points="0.5,9.5 3.5,0.5 6.5,9.5" fill="none" stroke="#000" stroke-width="1" stroke-linecap="square"/>
<polyline points="1.5,6.5 5.5,6.5" fill="none" stroke="#000" stroke-width="1" stroke-linecap="square"/>
</svg>
<svg x="213" y="62" width="6" height="10" overflow="hidden">
<polyline points="0.5,9.5 0.5,0.5 5.5,9.5 5.5,0.5" fill="none" stroke="#000" stroke-width="1" stroke-linecap="square"/>
</svg>
<svg x="222" y="62" width="6" height="10" overflow="hidden">
<polyline points="0.5,0.5 0.5,9.5" fill="none" stroke="#000" stroke-width="1" stroke-linecap="square"/>
<polyline points="5.5,0.5 0.5,5.5" fill="none" stroke="#000" stroke-width="1" stroke-linecap="square"/>
<polyline points="2.5,4.5 5.5,9.5" fill="none" stroke="#000" stroke-width="1" stroke-linecap="square"/>
</svg>
<svg x="237" y="62" width="3" height="10" overflow="hidden">
<polyline points="0.5,3.5 1.5,3.5 2.5,2.5" fill="none" stroke="#000" stroke-width="1" stroke-linecap="square"/>
<polyline points="2.5,1.5 2.5,9.5" fill="none" stroke="#000" stroke-width="1" stroke-linecap="square"/>
</svg>
<rect x="187" y="106" width="58" height="17" fill="#000"/>
<rect x="188" y="107" width="55" height="14" fill="#fff"/>
<svg x="193" y="109" width="5" height="10" overflow="hidden">
<polyline points="0.5,0.5 0.5,9.5" fill="none" stroke="#000" stroke-width="1" stroke-linecap="square"/>
<polyline points="0.5,0.5 3.5,0.5 4.5,1.5 4.5,3.5 3.5,4.5 0.5,4.5" fill="none" stroke="#000" stroke-width="1" stroke-linecap="square"/>
<polyline points="3.5,4.5 4.5,5.5 4.5,8.5 3.5,9.5 0.5,9.5" fill="none" stroke="#000" stroke-width="1" stroke-linecap="square"/>
</svg>
<svg x="200" y="109" width="7" height="10" overflow="hidden">
<polyline points="0.5,9.5 3.5,0.5 6.5,9.5" fill="none" stroke="#000" stroke-width="1" stroke-linecap="square"/>
<polyline points="1.5,6.5 5.5,6.5" fill="none" stroke="#000" stroke-width="1" stroke-linecap="square"/>
</svg>
<svg x="210" y="109" width="6" height="10" overflow="hidden">
<polyline points="0.5,9.5 0.5,0.5 5.5,9.5 5.5,0.5" fill="none" stroke="#000" stroke-width="1" stroke-linecap="square"/>
</svg>
<svg x="219" y="109" width="6" height="10" overflow="hidden">
<polyline points="0.5,0.5 0.5,9.5" fill="none" stroke="#000" stroke-width="1" stroke-linecap="square"/>
<polyline points="5.5,0.5 0.5,5.5" fill="none" stroke="#000" stroke-width="1" stroke-linecap="square"/>
<polyline points="2.5,4.5 5.5,9.5" fill="none" stroke="#000" stroke-width="1" stroke-linecap="square"/>
</svg>
<svg x="233" y="109" width="5" height="10" overflow="hidden">
<polyline points="0.5,3.5 0.5,2.5 1.5,1.5 3.5,1.5 4.5,2.5 4.5,4.5 0.5,9.5 4.5,9.5" fill="none" stroke="#000" stroke-width="1" stroke-linecap="square"/>
</svg>
<rect x="187" y="144" width="58" height="17" fill="#000"/>
<rect x="188" y="145" width="55" height="15" fill="#fff"/>
<svg x="193" y="147" width="5" height="10" overflow="hidden">
<polyline points="0.5,0.5 0.5,9.5" fill="none" stroke="#000" stroke-width="1" stroke-linecap="square"/>
<polyline points="0.5,0.5 3.5,0.5 4.5,1.5 4.5,3.5 3.5,4.5 0.5,4.5" fill="none" stroke="#000" stroke-width="1" stroke-linecap="square"/>
<polyline points="3.5,4.5 4.5,5.5 4.5,8.5 3.5,9.5 0.5,9.5" fill="none" stroke="#000" stroke-width="1" stroke-linecap="square"/>
</svg>
<svg x="200" y="147" width="7" height="10" overflow="hidden">
<polyline points="0.5,9.5 3.5,0.5 6.5,9.5" fill="none" stroke="#000" stroke-width="1" stroke-linecap="square"/>
<polyline points="1.5,6.5 5.5,6.5" fill="none" stroke="#000" stroke-width="1" stroke-linecap="square"/>
</svg>
<svg x="210" y="147" width="6" height="10" overflow="hidden">
<polyline points="0.5,9.5 0.5,0.5 5.5,9.5 5.5,0.5" fill="none" stroke="#000" stroke-width="1" stroke-linecap="square"/>
</svg>
<svg x="219" y="147" width="6" height="10" overflow="hidden">
<polyline points="0.5,0.5 0.5,9.5" fill="none" stroke="#000" stroke-width="1" stroke-linecap="square"/>
<polyline points="5.5,0.5 0.5,5.5" fill="none" stroke="#000" stroke-width="1" stroke-linecap="square"/>
<polyline points="2.5,4.5 5.5,9.5" fill="none" stroke="#000" stroke-width="1" stroke-linecap="square"/>
</svg>
<svg x="233" y="147" width="5" height="10" overflow="hidden">
<polyline points="0.5,2.5 1.5,1.5 3.5,1.5 4.5,2.5 4.5,4.5 3.5,5.5 2.5,5.5" fill="none" stroke="#000" stroke-width="1" stroke-linecap="square"/>
<polyline points="3.5,5.5 4.5,6.5 4.5,8.5 3.5,9.5 1.5,9.5 0.5,8.5" fill="none" stroke="#000" stroke-width="1" stroke-linecap="square"/>
</svg>
<rect x="25" y="87" width="23" height="17" fill="#000"/>
<rect x="26" y="88" width="20" height="14" fill="#fff"/>
<svg x="30" y="89" width="5" height="10" overflow="hidden">
<polyline points="0.5,9.5 0.5,0.5 3.5,0.5 4.5,1.5 4.5,4.5 3.5,5.5 0.5,5.5" fill="none" stroke="#000" stroke-width="1" stroke-linecap="square"/>
</svg>
<svg x="38" y="89" width="5" height="10" overflow="hidden">
<polyline points="2.5,1.5 0.5,3.5 0.5,7.5 2.5,9.5 4.5,7.5 4.5,3.5 2.5,1.5" fill="none" stroke="#000" stroke-width="1" stroke-linecap="square"/>
</svg>
<polygon points="24,159 47,159 48,160 48,178 47,179 24,179 23,178 23,160" fill="#000"/>
<polygon points="26,161 44,161 45,162 45,175 44,176 26,176 25,175 25,162" fill="#fff"/>
<svg x="28" y="163" width="5" height="10" overflow="hidden">
<polyline points="0.5,9.5 0.5,0.5 3.5,0.5 4.5,1.5 4.5,4.5 3.5,5.5 0.5,5.5" fill="none" stroke="#000" stroke-width="1" stroke-linecap="square"/>
</svg>
<svg x="37" y="163" width="3" height="10" overflow="hidden">
<polyline points="0.5,3.5 1.5,3.5 2.5,2.5" fill="none" stroke="#000" stroke-width="1" stroke-linecap="square"/>
<polyline points="2.5,1.5 2.5,9.5" fill="none" stroke="#000" stroke-width="1" stroke-linecap="square"/>
</svg>
</svg>
</body></html>
